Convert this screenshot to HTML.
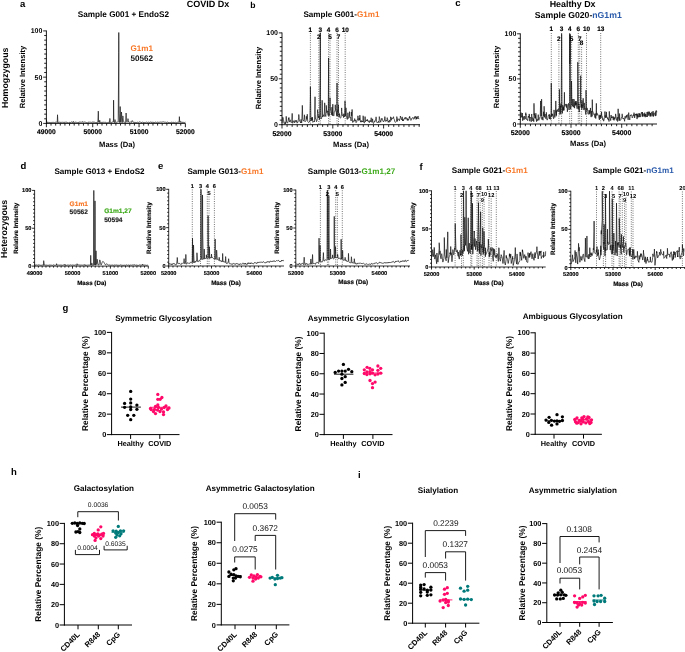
<!DOCTYPE html>
<html><head><meta charset="utf-8"><style>
html,body{margin:0;padding:0;background:#fff;}
svg{display:block;will-change:transform;}
text{font-family:"Liberation Sans", sans-serif;text-rendering:geometricPrecision;}
</style></head><body>
<svg width="685" height="652" viewBox="0 0 685 652">
<rect width="685" height="652" fill="#fff"/>
<text x="20.00" y="6.80" font-size="9.5" font-weight="bold" text-anchor="start" fill="#000">a</text>
<text x="250.20" y="7.70" font-size="8.6" font-weight="bold" text-anchor="start" fill="#000">b</text>
<text x="455.30" y="6.20" font-size="9.5" font-weight="bold" text-anchor="start" fill="#000">c</text>
<text x="20.40" y="169.20" font-size="9.5" font-weight="bold" text-anchor="start" fill="#000">d</text>
<text x="158.00" y="169.00" font-size="9.5" font-weight="bold" text-anchor="start" fill="#000">e</text>
<text x="419.50" y="170.20" font-size="9.5" font-weight="bold" text-anchor="start" fill="#000">f</text>
<text x="62.60" y="310.60" font-size="9.5" font-weight="bold" text-anchor="start" fill="#000">g</text>
<text x="11.00" y="474.80" font-size="9.5" font-weight="bold" text-anchor="start" fill="#000">h</text>
<text x="357.90" y="477.50" font-size="9.5" font-weight="bold" text-anchor="start" fill="#000">i</text>
<text x="186.80" y="7.20" font-size="9.0" font-weight="bold" text-anchor="start" fill="#000">COVID Dx</text>
<text x="572.60" y="6.80" font-size="8.9" font-weight="bold" text-anchor="middle" fill="#000">Healthy Dx</text>
<text x="7.60" y="77.80" font-size="8.8" font-weight="bold" text-anchor="middle" fill="#000" transform="rotate(-90 7.60 77.80)">Homogzygous</text>
<text x="7.20" y="229.00" font-size="8.8" font-weight="bold" text-anchor="middle" fill="#000" transform="rotate(-90 7.20 229.00)">Heterozygous</text>
<path d="M46.40,119.47 L46.78,122.59 L47.24,122.18 L47.50,122.69 L47.88,122.70 L48.27,122.67 L48.55,122.28 L49.00,122.47 L49.39,122.50 L49.80,122.28 L50.02,122.65 L50.43,122.24 L50.76,122.62 L51.29,122.41 L51.63,122.57 L51.86,122.66 L52.44,122.41 L52.80,122.41 L53.11,122.46 L53.47,122.45 L53.74,122.34 L54.08,122.63 L54.56,122.67 L54.83,122.33 L55.23,122.22 L55.61,122.28 L55.93,122.02 L56.40,122.15 L56.76,121.98 L57.22,122.45 L57.48,116.69 L57.52,114.80 L57.52,114.77 L57.56,115.62 L57.92,122.50 L58.26,122.03 L58.67,122.48 L58.99,121.96 L59.32,121.90 L59.85,122.51 L60.22,122.61 L60.56,122.23 L60.90,122.51 L61.18,122.73 L61.54,122.17 L61.92,122.35 L62.24,122.10 L62.77,122.58 L63.06,122.49 L63.53,122.23 L63.79,122.71 L64.29,122.70 L64.64,122.29 L64.82,121.98 L65.24,121.83 L65.76,122.51 L66.04,122.38 L66.52,122.13 L66.76,122.27 L67.06,122.16 L67.56,122.55 L67.96,122.76 L68.22,122.80 L68.55,122.86 L68.97,122.45 L69.48,122.36 L69.81,122.28 L70.04,122.62 L70.44,122.69 L70.77,122.69 L71.13,122.16 L71.67,121.87 L71.90,121.84 L72.36,122.53 L72.70,122.76 L73.02,122.08 L73.22,121.77 L73.27,121.30 L73.33,121.55 L73.51,122.39 L73.75,122.34 L74.23,122.40 L74.48,122.27 L74.92,122.73 L75.25,122.28 L75.63,122.03 L76.16,122.51 L76.49,122.43 L76.75,122.16 L77.25,122.36 L77.47,122.60 L77.88,122.70 L78.35,122.43 L78.68,122.77 L78.93,122.14 L79.50,122.02 L79.69,122.07 L80.07,121.95 L80.56,122.11 L80.83,122.35 L81.19,122.26 L81.52,122.31 L81.89,121.92 L82.37,121.96 L82.48,122.17 L82.54,121.74 L82.59,121.86 L82.67,122.01 L83.12,121.97 L83.44,122.31 L83.82,121.99 L84.31,121.91 L84.57,122.05 L84.96,122.02 L85.40,122.02 L85.62,122.32 L85.98,122.14 L86.52,122.64 L86.87,122.56 L87.11,122.43 L87.47,122.78 L87.96,122.59 L88.38,122.30 L88.59,122.22 L89.12,122.53 L89.48,122.02 L89.79,122.10 L90.12,122.40 L90.42,122.22 L90.77,122.24 L91.35,122.28 L91.56,122.41 L92.03,121.94 L92.31,122.10 L92.80,122.10 L93.12,122.04 L93.43,121.84 L93.77,122.59 L94.26,122.32 L94.49,122.13 L94.89,122.48 L95.34,122.46 L95.77,122.75 L96.09,122.72 L96.39,122.56 L96.90,122.74 L97.11,122.67 L97.44,122.09 L97.87,122.22 L98.25,113.84 L98.28,111.32 L98.29,111.14 L98.33,112.09 L98.56,122.08 L98.96,122.00 L99.37,122.59 L99.57,121.06 L99.68,120.38 L99.79,120.77 L99.79,120.60 L100.06,122.32 L100.48,122.42 L100.97,122.64 L101.36,122.43 L101.66,122.27 L102.04,122.69 L102.39,122.07 L102.66,122.32 L103.00,122.31 L103.37,122.25 L103.94,122.42 L104.26,122.54 L104.69,122.27 L104.85,122.26 L105.36,122.50 L105.70,122.20 L106.12,122.47 L106.40,122.78 L106.93,122.69 L107.09,122.83 L107.57,122.77 L107.98,122.25 L108.39,122.40 L108.72,122.02 L109.08,122.03 L109.47,122.62 L109.83,119.52 L109.87,118.45 L109.87,118.66 L109.91,118.91 L110.12,122.31 L110.56,122.35 L110.98,121.94 L111.34,122.43 L111.61,122.35 L112.07,121.97 L112.45,122.04 L112.76,122.27 L113.14,121.91 L113.46,120.07 L113.54,105.15 L113.58,100.17 L113.62,102.08 L113.87,122.37 L114.25,122.59 L114.50,122.79 L114.89,120.37 L114.97,119.62 L115.00,119.61 L115.05,119.81 L115.45,122.35 L115.79,122.54 L116.13,122.33 L116.43,122.40 L116.87,122.12 L117.21,122.25 L117.55,121.89 L118.01,121.82 L118.21,121.98 L118.73,55.00 L118.73,52.73 L118.77,32.50 L118.80,40.28 L118.94,113.53 L119.44,122.40 L119.78,122.55 L120.10,110.75 L120.10,110.23 L120.16,106.54 L120.21,107.96 L120.57,122.08 L120.90,122.52 L121.29,116.68 L121.34,114.48 L121.45,111.99 L121.57,112.94 L121.73,116.99 L121.96,121.58 L122.27,122.66 L122.71,117.50 L122.71,117.40 L122.84,115.92 L122.98,116.47 L123.16,118.71 L123.43,121.83 L123.79,122.33 L124.32,122.29 L124.64,122.21 L124.96,122.41 L125.43,122.38 L125.68,122.59 L126.02,115.36 L126.09,113.00 L126.12,113.20 L126.16,114.00 L126.39,121.51 L126.81,122.20 L127.27,122.19 L127.66,121.44 L127.80,119.67 L127.94,118.63 L128.03,118.82 L128.08,118.94 L128.29,120.58 L128.70,122.22 L129.01,121.89 L129.34,122.35 L129.79,122.30 L130.24,122.12 L130.61,121.92 L130.95,122.27 L131.38,122.43 L131.60,122.14 L131.83,121.00 L131.94,120.77 L132.11,120.58 L132.38,120.69 L132.39,120.69 L132.71,121.35 L133.07,122.30 L133.48,122.14 L133.90,122.63 L134.24,122.67 L134.57,122.30 L135.06,122.68 L135.46,122.60 L135.71,122.23 L136.00,122.14 L136.36,122.46 L136.92,122.67 L137.10,122.56 L137.62,122.21 L137.96,122.41 L138.28,122.68 L138.75,122.26 L138.95,122.26 L139.35,121.96 L139.79,121.85 L140.07,121.84 L140.62,122.24 L140.85,122.05 L141.20,122.42 L141.55,122.51 L142.05,122.47 L142.38,122.01 L142.80,121.91 L143.17,122.42 L143.58,122.48 L143.98,122.49 L144.29,122.50 L144.55,122.47 L144.98,122.47 L145.29,122.63 L145.62,122.37 L146.10,122.10 L146.52,122.23 L146.77,122.02 L147.16,122.19 L147.55,122.56 L148.00,122.19 L148.33,121.97 L148.72,122.41 L149.12,122.76 L149.41,122.45 L149.87,122.33 L150.27,122.28 L150.46,121.93 L151.02,122.09 L151.34,122.01 L151.58,122.60 L152.02,122.38 L152.43,122.11 L152.86,122.62 L153.12,122.77 L153.53,122.27 L153.97,121.98 L154.32,122.58 L154.73,122.30 L154.99,122.62 L155.40,122.22 L155.67,122.17 L156.16,122.50 L156.55,122.62 L156.88,122.20 L157.27,122.28 L157.53,122.10 L158.05,122.35 L158.44,122.48 L158.81,121.98 L159.08,122.09 L159.51,122.27 L159.78,122.28 L160.28,122.13 L160.64,122.10 L160.89,121.92 L161.21,122.29 L161.66,122.05 L162.05,122.11 L162.47,121.97 L162.78,121.97 L163.05,121.95 L163.59,121.89 L163.80,121.82 L164.33,122.06 L164.56,122.23 L164.97,122.13 L165.44,122.02 L165.67,122.31 L166.04,122.39 L166.49,122.65 L166.91,122.23 L167.30,121.89 L167.64,122.31 L168.07,122.61 L168.34,122.67 L168.81,122.50 L168.99,122.56 L169.39,122.01 L169.83,122.61 L170.15,122.58 L170.62,122.73 L170.97,122.33 L171.31,122.10 L171.75,122.54 L172.06,122.76 L172.38,122.50 L172.76,122.31 L173.24,121.99 L173.62,122.62 L173.84,122.75 L174.35,122.73 L174.75,122.69 L175.02,122.67 L175.40,122.25 L175.69,122.23 L176.13,122.54 L176.50,122.66 L176.89,122.62 L177.13,122.70 L177.71,122.23 L177.98,122.46 L178.33,122.33 L178.79,122.07 L179.10,122.27 L179.33,118.23 L179.37,116.66 L179.41,117.17 L179.46,118.99 L179.87,122.30 L180.10,121.94 L180.58,122.23 L180.67,121.84 L180.76,121.50 L180.84,121.46 L180.92,121.83 L181.41,122.33 L181.78,122.31 L182.00,122.32 L182.42,122.52 L182.71,121.98 L183.15,122.10 L183.61,122.49 L184.00,122.79 L184.27,122.50 L184.61,122.49 L184.95,122.13 L185.39,122.10" fill="none" stroke="#111" stroke-width="0.7" stroke-linejoin="round"/>
<line x1="46.40" y1="30.50" x2="46.40" y2="123.80" stroke="#000" stroke-width="0.9"/>
<line x1="46.00" y1="123.40" x2="185.40" y2="123.40" stroke="#000" stroke-width="0.9"/>
<line x1="43.20" y1="123.40" x2="46.40" y2="123.40" stroke="#000" stroke-width="0.85"/>
<line x1="44.20" y1="118.78" x2="46.40" y2="118.78" stroke="#000" stroke-width="0.85"/>
<line x1="44.20" y1="114.15" x2="46.40" y2="114.15" stroke="#000" stroke-width="0.85"/>
<line x1="44.20" y1="109.53" x2="46.40" y2="109.53" stroke="#000" stroke-width="0.85"/>
<line x1="44.20" y1="104.90" x2="46.40" y2="104.90" stroke="#000" stroke-width="0.85"/>
<line x1="44.20" y1="100.28" x2="46.40" y2="100.28" stroke="#000" stroke-width="0.85"/>
<line x1="44.20" y1="95.65" x2="46.40" y2="95.65" stroke="#000" stroke-width="0.85"/>
<line x1="44.20" y1="91.03" x2="46.40" y2="91.03" stroke="#000" stroke-width="0.85"/>
<line x1="44.20" y1="86.40" x2="46.40" y2="86.40" stroke="#000" stroke-width="0.85"/>
<line x1="44.20" y1="81.78" x2="46.40" y2="81.78" stroke="#000" stroke-width="0.85"/>
<line x1="43.20" y1="77.15" x2="46.40" y2="77.15" stroke="#000" stroke-width="0.85"/>
<line x1="44.20" y1="72.53" x2="46.40" y2="72.53" stroke="#000" stroke-width="0.85"/>
<line x1="44.20" y1="67.90" x2="46.40" y2="67.90" stroke="#000" stroke-width="0.85"/>
<line x1="44.20" y1="63.28" x2="46.40" y2="63.28" stroke="#000" stroke-width="0.85"/>
<line x1="44.20" y1="58.65" x2="46.40" y2="58.65" stroke="#000" stroke-width="0.85"/>
<line x1="44.20" y1="54.03" x2="46.40" y2="54.03" stroke="#000" stroke-width="0.85"/>
<line x1="44.20" y1="49.40" x2="46.40" y2="49.40" stroke="#000" stroke-width="0.85"/>
<line x1="44.20" y1="44.78" x2="46.40" y2="44.78" stroke="#000" stroke-width="0.85"/>
<line x1="44.20" y1="40.15" x2="46.40" y2="40.15" stroke="#000" stroke-width="0.85"/>
<line x1="44.20" y1="35.53" x2="46.40" y2="35.53" stroke="#000" stroke-width="0.85"/>
<line x1="43.20" y1="30.90" x2="46.40" y2="30.90" stroke="#000" stroke-width="0.85"/>
<line x1="46.40" y1="123.40" x2="46.40" y2="127.20" stroke="#000" stroke-width="0.85"/>
<line x1="51.03" y1="123.40" x2="51.03" y2="125.60" stroke="#000" stroke-width="0.85"/>
<line x1="55.67" y1="123.40" x2="55.67" y2="125.60" stroke="#000" stroke-width="0.85"/>
<line x1="60.30" y1="123.40" x2="60.30" y2="125.60" stroke="#000" stroke-width="0.85"/>
<line x1="64.93" y1="123.40" x2="64.93" y2="125.60" stroke="#000" stroke-width="0.85"/>
<line x1="69.56" y1="123.40" x2="69.56" y2="125.60" stroke="#000" stroke-width="0.85"/>
<line x1="74.20" y1="123.40" x2="74.20" y2="125.60" stroke="#000" stroke-width="0.85"/>
<line x1="78.83" y1="123.40" x2="78.83" y2="125.60" stroke="#000" stroke-width="0.85"/>
<line x1="83.46" y1="123.40" x2="83.46" y2="125.60" stroke="#000" stroke-width="0.85"/>
<line x1="88.10" y1="123.40" x2="88.10" y2="125.60" stroke="#000" stroke-width="0.85"/>
<line x1="92.73" y1="123.40" x2="92.73" y2="127.20" stroke="#000" stroke-width="0.85"/>
<line x1="97.36" y1="123.40" x2="97.36" y2="125.60" stroke="#000" stroke-width="0.85"/>
<line x1="102.00" y1="123.40" x2="102.00" y2="125.60" stroke="#000" stroke-width="0.85"/>
<line x1="106.63" y1="123.40" x2="106.63" y2="125.60" stroke="#000" stroke-width="0.85"/>
<line x1="111.26" y1="123.40" x2="111.26" y2="125.60" stroke="#000" stroke-width="0.85"/>
<line x1="115.90" y1="123.40" x2="115.90" y2="125.60" stroke="#000" stroke-width="0.85"/>
<line x1="120.53" y1="123.40" x2="120.53" y2="125.60" stroke="#000" stroke-width="0.85"/>
<line x1="125.16" y1="123.40" x2="125.16" y2="125.60" stroke="#000" stroke-width="0.85"/>
<line x1="129.79" y1="123.40" x2="129.79" y2="125.60" stroke="#000" stroke-width="0.85"/>
<line x1="134.43" y1="123.40" x2="134.43" y2="125.60" stroke="#000" stroke-width="0.85"/>
<line x1="139.06" y1="123.40" x2="139.06" y2="127.20" stroke="#000" stroke-width="0.85"/>
<line x1="143.69" y1="123.40" x2="143.69" y2="125.60" stroke="#000" stroke-width="0.85"/>
<line x1="148.33" y1="123.40" x2="148.33" y2="125.60" stroke="#000" stroke-width="0.85"/>
<line x1="152.96" y1="123.40" x2="152.96" y2="125.60" stroke="#000" stroke-width="0.85"/>
<line x1="157.59" y1="123.40" x2="157.59" y2="125.60" stroke="#000" stroke-width="0.85"/>
<line x1="162.22" y1="123.40" x2="162.22" y2="125.60" stroke="#000" stroke-width="0.85"/>
<line x1="166.86" y1="123.40" x2="166.86" y2="125.60" stroke="#000" stroke-width="0.85"/>
<line x1="171.49" y1="123.40" x2="171.49" y2="125.60" stroke="#000" stroke-width="0.85"/>
<line x1="176.12" y1="123.40" x2="176.12" y2="125.60" stroke="#000" stroke-width="0.85"/>
<line x1="180.76" y1="123.40" x2="180.76" y2="125.60" stroke="#000" stroke-width="0.85"/>
<line x1="185.39" y1="123.40" x2="185.39" y2="127.20" stroke="#000" stroke-width="0.85"/>
<text x="42.40" y="125.92" font-size="7.0" font-weight="bold" text-anchor="end" fill="#000">0</text>
<text x="42.40" y="79.67" font-size="7.0" font-weight="bold" text-anchor="end" fill="#000">50</text>
<text x="42.40" y="33.42" font-size="7.0" font-weight="bold" text-anchor="end" fill="#000">100</text>
<text x="46.40" y="133.90" font-size="6.7" font-weight="bold" text-anchor="middle" fill="#000" stroke="#000" stroke-width="0.15">49000</text>
<text x="92.73" y="133.90" font-size="6.7" font-weight="bold" text-anchor="middle" fill="#000" stroke="#000" stroke-width="0.15">50000</text>
<text x="139.06" y="133.90" font-size="6.7" font-weight="bold" text-anchor="middle" fill="#000" stroke="#000" stroke-width="0.15">51000</text>
<text x="185.39" y="133.90" font-size="6.7" font-weight="bold" text-anchor="middle" fill="#000" stroke="#000" stroke-width="0.15">52000</text>
<text x="117.00" y="146.60" font-size="7.6" font-weight="bold" text-anchor="middle" fill="#000">Mass (Da)</text>
<text x="25.30" y="77.00" font-size="7.6" font-weight="bold" text-anchor="middle" fill="#000" transform="rotate(-90 25.30 77.00)">Relative Intensity</text>
<text x="123.40" y="17.20" font-size="8.2" font-weight="bold" text-anchor="middle"><tspan fill="#000">Sample G001 + EndoS2</tspan></text>
<text x="130.50" y="51.20" font-size="8.1" font-weight="bold" text-anchor="start" fill="#F87828">G1m1</text>
<text x="130.50" y="61.30" font-size="8.1" font-weight="bold" text-anchor="start" fill="#111">50562</text>
<line x1="310.40" y1="33.00" x2="310.40" y2="124.70" stroke="#333" stroke-width="0.75" stroke-dasharray="0.9 1.4"/>
<line x1="318.80" y1="40.50" x2="318.80" y2="124.70" stroke="#333" stroke-width="0.75" stroke-dasharray="0.9 1.4"/>
<line x1="320.30" y1="33.00" x2="320.30" y2="124.70" stroke="#333" stroke-width="0.75" stroke-dasharray="0.9 1.4"/>
<line x1="328.60" y1="33.00" x2="328.60" y2="124.70" stroke="#333" stroke-width="0.75" stroke-dasharray="0.9 1.4"/>
<line x1="330.00" y1="40.50" x2="330.00" y2="124.70" stroke="#333" stroke-width="0.75" stroke-dasharray="0.9 1.4"/>
<line x1="337.00" y1="33.00" x2="337.00" y2="124.70" stroke="#333" stroke-width="0.75" stroke-dasharray="0.9 1.4"/>
<line x1="338.50" y1="40.50" x2="338.50" y2="124.70" stroke="#333" stroke-width="0.75" stroke-dasharray="0.9 1.4"/>
<line x1="345.20" y1="33.00" x2="345.20" y2="124.70" stroke="#333" stroke-width="0.75" stroke-dasharray="0.9 1.4"/>
<path d="M282.00,123.03 L282.52,118.77 L282.57,117.67 L282.63,117.51 L282.74,118.08 L283.06,117.67 L283.52,119.64 L283.95,123.40 L284.63,124.07 L285.14,121.78 L285.56,123.87 L286.07,121.67 L286.13,118.06 L286.19,116.34 L286.25,116.56 L286.49,121.14 L286.93,122.29 L287.55,123.17 L288.12,121.07 L288.47,118.37 L288.75,119.31 L288.87,117.44 L288.98,117.61 L289.20,120.77 L289.54,122.07 L290.05,120.97 L290.05,120.97 L290.14,119.78 L290.23,120.12 L290.50,121.40 L291.30,122.69 L291.72,122.25 L292.10,115.27 L292.16,113.40 L292.22,113.98 L292.27,115.78 L292.29,115.66 L292.37,119.75 L292.44,120.27 L292.70,123.26 L293.03,122.37 L293.63,120.88 L294.19,120.37 L294.58,122.80 L295.35,120.76 L295.68,120.33 L296.12,122.15 L296.41,120.50 L296.52,120.72 L296.63,120.56 L296.83,121.13 L297.13,123.15 L297.88,122.16 L298.11,121.53 L298.17,120.41 L298.23,120.45 L298.24,120.45 L298.70,117.14 L298.76,114.53 L298.78,114.77 L298.82,114.77 L299.22,119.16 L299.78,121.39 L300.19,121.86 L300.65,122.96 L300.93,120.58 L301.05,119.44 L301.17,120.32 L301.42,122.28 L301.73,122.99 L302.26,108.90 L302.32,105.38 L302.38,106.90 L302.41,108.00 L302.74,119.50 L303.48,121.12 L303.96,119.85 L304.34,117.28 L304.43,114.81 L304.43,115.57 L304.52,115.61 L304.94,121.78 L305.39,121.29 L305.95,120.90 L306.27,120.58 L306.32,118.48 L306.38,116.34 L306.44,117.55 L306.88,119.20 L307.14,116.46 L307.25,114.26 L307.35,115.20 L307.50,118.86 L307.82,121.73 L308.54,122.60 L309.04,122.26 L309.40,122.02 L309.90,120.26 L310.35,95.39 L310.40,86.75 L310.43,89.70 L310.44,90.36 L310.92,121.01 L311.35,119.28 L311.43,117.62 L311.52,118.45 L311.61,119.75 L311.94,120.64 L312.34,117.07 L312.46,119.73 L312.54,118.61 L312.61,119.70 L312.86,122.35 L313.56,121.49 L314.15,121.01 L314.51,121.82 L314.97,102.02 L315.02,96.78 L315.02,96.92 L315.06,97.80 L315.07,98.34 L315.14,109.61 L315.22,114.29 L315.54,119.18 L316.11,119.31 L316.46,121.71 L317.09,120.50 L317.50,113.34 L317.56,110.75 L317.58,109.65 L317.62,110.96 L318.04,112.87 L318.11,113.42 L318.12,113.88 L318.20,115.11 L318.48,117.86 L318.98,115.53 L319.55,119.71 L320.23,74.79 L320.26,52.67 L320.30,32.90 L320.35,40.00 L320.39,56.70 L320.51,108.93 L320.56,116.11 L320.63,116.67 L321.15,118.92 L321.57,118.54 L322.01,115.66 L322.06,107.21 L322.07,106.60 L322.12,100.24 L322.13,100.25 L322.19,101.92 L322.19,102.12 L322.51,117.03 L323.24,115.77 L323.74,114.72 L324.13,116.66 L324.61,107.15 L324.67,102.83 L324.73,104.33 L324.73,104.21 L324.80,108.65 L324.86,109.95 L324.92,111.75 L325.23,114.93 L325.81,116.55 L326.22,109.73 L326.29,105.39 L326.34,105.67 L326.36,106.35 L326.68,112.58 L327.36,110.80 L327.86,114.04 L328.26,115.55 L328.54,72.23 L328.58,57.90 L328.63,61.83 L328.85,115.98 L329.24,115.74 L329.71,112.61 L329.95,103.49 L330.01,98.51 L330.03,97.71 L330.07,98.76 L330.11,103.17 L330.18,105.73 L330.19,107.30 L330.88,110.83 L331.17,112.00 L331.65,114.78 L331.88,111.14 L331.94,107.14 L332.01,107.58 L332.39,115.77 L332.74,109.05 L332.80,104.20 L332.86,107.12 L332.88,108.82 L333.30,115.49 L333.92,115.94 L334.19,111.84 L334.76,111.43 L335.20,109.83 L335.27,105.95 L335.28,104.77 L335.33,107.74 L335.82,111.23 L336.26,111.96 L336.73,115.81 L336.97,92.43 L337.02,82.97 L337.06,87.80 L337.32,116.26 L337.90,114.54 L337.99,110.23 L338.00,111.48 L338.09,110.42 L338.31,107.91 L338.39,104.66 L338.46,106.33 L338.54,110.36 L338.97,116.89 L339.40,113.55 L339.84,117.67 L340.56,118.12 L340.94,117.31 L341.51,113.81 L341.54,111.55 L341.64,107.91 L341.73,109.19 L341.80,111.54 L342.36,115.61 L343.06,114.81 L343.56,117.55 L343.71,115.60 L343.77,113.76 L343.84,114.12 L344.09,115.52 L344.51,116.81 L344.95,106.42 L344.97,102.58 L344.99,100.93 L345.04,103.14 L345.52,116.08 L345.91,111.39 L345.98,107.83 L346.05,109.77 L346.11,112.95 L346.46,115.67 L347.03,119.33 L347.46,119.24 L347.82,115.22 L347.90,112.76 L347.99,114.68 L348.12,118.18 L348.40,118.43 L349.11,117.12 L349.42,113.91 L349.51,111.68 L349.60,113.53 L349.70,116.35 L349.93,117.70 L350.61,117.39 L351.13,120.99 L351.28,114.60 L351.34,111.99 L351.41,113.19 L351.70,115.82 L352.06,112.42 L352.10,109.48 L352.13,110.80 L352.15,110.93 L352.54,122.25 L353.09,122.34 L353.77,120.54 L354.26,121.27 L354.53,120.51 L354.56,120.12 L354.67,118.62 L354.77,119.48 L355.03,120.79 L355.54,119.92 L356.02,122.69 L356.66,122.05 L357.07,119.69 L357.80,119.40 L357.84,117.28 L357.91,115.81 L357.98,115.99 L358.25,120.51 L358.59,120.24 L359.23,117.95 L359.67,120.19 L359.75,117.32 L359.83,115.16 L359.91,115.85 L360.23,120.47 L360.65,122.15 L361.15,120.39 L361.66,122.11 L362.23,121.00 L362.84,121.97 L363.01,118.12 L363.13,115.77 L363.26,116.04 L363.30,116.63 L363.65,122.33 L364.36,122.97 L364.92,120.64 L364.97,118.02 L365.06,116.60 L365.15,116.87 L365.40,121.70 L365.91,121.05 L366.18,120.73 L366.82,120.07 L367.01,120.96 L367.09,120.52 L367.17,120.94 L367.21,119.28 L367.93,121.17 L368.26,121.66 L368.93,120.68 L369.30,122.67 L369.94,120.67 L370.34,120.59 L370.76,121.86 L371.10,119.24 L371.19,117.74 L371.28,118.77 L371.37,120.17 L371.86,122.27 L372.41,120.87 L372.52,119.51 L372.55,119.60 L372.62,118.83 L372.87,122.17 L373.44,123.49 L373.96,122.60 L374.59,120.84 L374.84,121.68 L375.50,120.12 L375.97,118.15 L375.98,117.78 L376.08,116.85 L376.19,117.77 L376.56,121.53 L377.14,122.67 L377.45,122.98 L378.07,122.04 L378.53,121.22 L379.05,122.77 L379.24,118.69 L379.32,116.62 L379.40,117.10 L379.40,117.38 L380.14,119.79 L380.70,122.22 L381.02,120.30 L381.51,119.83 L381.78,119.85 L381.89,118.09 L382.00,119.07 L382.23,120.18 L382.46,119.81 L382.96,120.78 L383.47,121.98 L384.20,120.81 L384.70,118.97 L384.73,118.03 L384.83,116.63 L384.93,116.77 L385.11,120.42 L385.67,121.45 L385.99,119.86 L386.69,120.94 L387.14,120.88 L387.17,119.05 L387.25,117.66 L387.32,118.70 L387.67,119.22 L388.14,122.25 L388.65,121.15 L389.10,122.38 L389.56,120.17 L390.18,121.71 L390.49,118.50 L390.59,116.80 L390.63,116.87 L390.69,117.04 L391.28,120.32 L391.82,117.63 L392.30,118.73 L392.73,118.73 L393.17,118.20 L393.52,116.73 L393.62,117.42 L393.73,118.15 L393.73,118.38 L394.26,119.24 L394.82,121.76 L395.43,122.29 L395.67,121.97 L396.29,121.65 L396.72,118.82 L396.81,116.60 L396.83,117.07 L396.94,117.45 L397.38,121.37 L397.94,118.76 L398.42,119.23 L398.88,119.02 L399.43,120.73 L399.91,118.65 L400.30,117.63 L400.39,116.13 L400.47,116.81 L400.48,116.59 L400.93,117.88 L401.44,119.77 L401.81,118.80 L402.05,118.17 L402.17,116.84 L402.28,117.39 L402.52,120.94 L402.87,119.25 L403.45,120.93 L404.02,118.55 L404.57,118.37 L405.09,119.23 L405.09,119.07 L405.19,117.06 L405.29,117.38 L405.30,117.40 L405.89,118.69 L406.40,117.71 L406.93,118.23 L407.05,119.48 L407.16,118.52 L407.26,118.99 L407.37,120.47 L408.00,118.97 L408.36,120.36 L408.94,118.97 L409.28,117.15 L409.38,116.96 L409.48,117.73 L409.64,116.31 L410.09,117.95 L410.51,119.25 L410.91,120.44 L411.67,119.25 L411.68,119.05 L411.76,118.18 L411.85,118.38 L412.11,118.15 L412.47,117.94 L413.01,117.34 L413.62,119.24 L414.14,118.80 L414.52,118.65 L414.70,116.78 L414.80,117.38 L414.90,117.68 L415.23,116.15 L415.55,116.77 L416.04,119.45 L416.60,118.36 L416.66,116.68 L416.73,118.96 L416.73,117.97 L417.02,118.67 L417.69,116.59 L418.05,116.26 L418.23,116.02 L418.30,118.59 L418.38,118.29 L418.68,118.30 L419.09,119.14" fill="none" stroke="#111" stroke-width="0.7" stroke-linejoin="round"/>
<line x1="282.00" y1="32.50" x2="282.00" y2="125.10" stroke="#000" stroke-width="0.9"/>
<line x1="281.60" y1="124.70" x2="420.00" y2="124.70" stroke="#000" stroke-width="0.9"/>
<line x1="278.80" y1="124.70" x2="282.00" y2="124.70" stroke="#000" stroke-width="0.85"/>
<line x1="279.80" y1="120.11" x2="282.00" y2="120.11" stroke="#000" stroke-width="0.85"/>
<line x1="279.80" y1="115.52" x2="282.00" y2="115.52" stroke="#000" stroke-width="0.85"/>
<line x1="279.80" y1="110.93" x2="282.00" y2="110.93" stroke="#000" stroke-width="0.85"/>
<line x1="279.80" y1="106.34" x2="282.00" y2="106.34" stroke="#000" stroke-width="0.85"/>
<line x1="279.80" y1="101.75" x2="282.00" y2="101.75" stroke="#000" stroke-width="0.85"/>
<line x1="279.80" y1="97.16" x2="282.00" y2="97.16" stroke="#000" stroke-width="0.85"/>
<line x1="279.80" y1="92.57" x2="282.00" y2="92.57" stroke="#000" stroke-width="0.85"/>
<line x1="279.80" y1="87.98" x2="282.00" y2="87.98" stroke="#000" stroke-width="0.85"/>
<line x1="279.80" y1="83.39" x2="282.00" y2="83.39" stroke="#000" stroke-width="0.85"/>
<line x1="278.80" y1="78.80" x2="282.00" y2="78.80" stroke="#000" stroke-width="0.85"/>
<line x1="279.80" y1="74.21" x2="282.00" y2="74.21" stroke="#000" stroke-width="0.85"/>
<line x1="279.80" y1="69.62" x2="282.00" y2="69.62" stroke="#000" stroke-width="0.85"/>
<line x1="279.80" y1="65.03" x2="282.00" y2="65.03" stroke="#000" stroke-width="0.85"/>
<line x1="279.80" y1="60.44" x2="282.00" y2="60.44" stroke="#000" stroke-width="0.85"/>
<line x1="279.80" y1="55.85" x2="282.00" y2="55.85" stroke="#000" stroke-width="0.85"/>
<line x1="279.80" y1="51.26" x2="282.00" y2="51.26" stroke="#000" stroke-width="0.85"/>
<line x1="279.80" y1="46.67" x2="282.00" y2="46.67" stroke="#000" stroke-width="0.85"/>
<line x1="279.80" y1="42.08" x2="282.00" y2="42.08" stroke="#000" stroke-width="0.85"/>
<line x1="279.80" y1="37.49" x2="282.00" y2="37.49" stroke="#000" stroke-width="0.85"/>
<line x1="278.80" y1="32.90" x2="282.00" y2="32.90" stroke="#000" stroke-width="0.85"/>
<line x1="282.00" y1="124.70" x2="282.00" y2="128.50" stroke="#000" stroke-width="0.85"/>
<line x1="287.08" y1="124.70" x2="287.08" y2="126.90" stroke="#000" stroke-width="0.85"/>
<line x1="292.16" y1="124.70" x2="292.16" y2="126.90" stroke="#000" stroke-width="0.85"/>
<line x1="297.24" y1="124.70" x2="297.24" y2="126.90" stroke="#000" stroke-width="0.85"/>
<line x1="302.32" y1="124.70" x2="302.32" y2="126.90" stroke="#000" stroke-width="0.85"/>
<line x1="307.40" y1="124.70" x2="307.40" y2="126.90" stroke="#000" stroke-width="0.85"/>
<line x1="312.48" y1="124.70" x2="312.48" y2="126.90" stroke="#000" stroke-width="0.85"/>
<line x1="317.56" y1="124.70" x2="317.56" y2="126.90" stroke="#000" stroke-width="0.85"/>
<line x1="322.64" y1="124.70" x2="322.64" y2="126.90" stroke="#000" stroke-width="0.85"/>
<line x1="327.72" y1="124.70" x2="327.72" y2="126.90" stroke="#000" stroke-width="0.85"/>
<line x1="332.80" y1="124.70" x2="332.80" y2="128.50" stroke="#000" stroke-width="0.85"/>
<line x1="337.88" y1="124.70" x2="337.88" y2="126.90" stroke="#000" stroke-width="0.85"/>
<line x1="342.96" y1="124.70" x2="342.96" y2="126.90" stroke="#000" stroke-width="0.85"/>
<line x1="348.04" y1="124.70" x2="348.04" y2="126.90" stroke="#000" stroke-width="0.85"/>
<line x1="353.12" y1="124.70" x2="353.12" y2="126.90" stroke="#000" stroke-width="0.85"/>
<line x1="358.20" y1="124.70" x2="358.20" y2="126.90" stroke="#000" stroke-width="0.85"/>
<line x1="363.28" y1="124.70" x2="363.28" y2="126.90" stroke="#000" stroke-width="0.85"/>
<line x1="368.36" y1="124.70" x2="368.36" y2="126.90" stroke="#000" stroke-width="0.85"/>
<line x1="373.44" y1="124.70" x2="373.44" y2="126.90" stroke="#000" stroke-width="0.85"/>
<line x1="378.52" y1="124.70" x2="378.52" y2="126.90" stroke="#000" stroke-width="0.85"/>
<line x1="383.60" y1="124.70" x2="383.60" y2="128.50" stroke="#000" stroke-width="0.85"/>
<line x1="388.68" y1="124.70" x2="388.68" y2="126.90" stroke="#000" stroke-width="0.85"/>
<line x1="393.76" y1="124.70" x2="393.76" y2="126.90" stroke="#000" stroke-width="0.85"/>
<line x1="398.84" y1="124.70" x2="398.84" y2="126.90" stroke="#000" stroke-width="0.85"/>
<line x1="403.92" y1="124.70" x2="403.92" y2="126.90" stroke="#000" stroke-width="0.85"/>
<line x1="409.00" y1="124.70" x2="409.00" y2="126.90" stroke="#000" stroke-width="0.85"/>
<line x1="414.08" y1="124.70" x2="414.08" y2="126.90" stroke="#000" stroke-width="0.85"/>
<line x1="419.16" y1="124.70" x2="419.16" y2="126.90" stroke="#000" stroke-width="0.85"/>
<text x="278.00" y="127.22" font-size="7.0" font-weight="bold" text-anchor="end" fill="#000">0</text>
<text x="278.00" y="81.32" font-size="7.0" font-weight="bold" text-anchor="end" fill="#000">50</text>
<text x="278.00" y="35.42" font-size="7.0" font-weight="bold" text-anchor="end" fill="#000">100</text>
<text x="282.00" y="135.80" font-size="6.8" font-weight="bold" text-anchor="middle" fill="#000" stroke="#000" stroke-width="0.15">52000</text>
<text x="332.80" y="135.80" font-size="6.8" font-weight="bold" text-anchor="middle" fill="#000" stroke="#000" stroke-width="0.15">53000</text>
<text x="383.60" y="135.80" font-size="6.8" font-weight="bold" text-anchor="middle" fill="#000" stroke="#000" stroke-width="0.15">54000</text>
<text x="351.00" y="146.70" font-size="7.6" font-weight="bold" text-anchor="middle" fill="#000">Mass (Da)</text>
<text x="261.00" y="78.00" font-size="7.6" font-weight="bold" text-anchor="middle" fill="#000" transform="rotate(-90 261.00 78.00)">Relative Intensity</text>
<text x="341.40" y="17.20" font-size="8.1" font-weight="bold" text-anchor="middle"><tspan fill="#000">Sample G001-</tspan><tspan fill="#F87828">G1m1</tspan></text>
<text x="310.40" y="31.60" font-size="6.4" font-weight="bold" text-anchor="middle" fill="#000" stroke="#000" stroke-width="0.15">1</text>
<text x="320.30" y="31.60" font-size="6.4" font-weight="bold" text-anchor="middle" fill="#000" stroke="#000" stroke-width="0.15">3</text>
<text x="328.60" y="31.60" font-size="6.4" font-weight="bold" text-anchor="middle" fill="#000" stroke="#000" stroke-width="0.15">4</text>
<text x="337.00" y="31.60" font-size="6.4" font-weight="bold" text-anchor="middle" fill="#000" stroke="#000" stroke-width="0.15">6</text>
<text x="345.20" y="31.60" font-size="6.4" font-weight="bold" text-anchor="middle" fill="#000" stroke="#000" stroke-width="0.15">10</text>
<text x="318.80" y="39.30" font-size="6.4" font-weight="bold" text-anchor="middle" fill="#000" stroke="#000" stroke-width="0.15">2</text>
<text x="330.00" y="39.30" font-size="6.4" font-weight="bold" text-anchor="middle" fill="#000" stroke="#000" stroke-width="0.15">5</text>
<text x="338.50" y="39.30" font-size="6.4" font-weight="bold" text-anchor="middle" fill="#000" stroke="#000" stroke-width="0.15">7</text>
<line x1="551.30" y1="33.00" x2="551.30" y2="124.00" stroke="#333" stroke-width="0.75" stroke-dasharray="0.9 1.4"/>
<line x1="558.90" y1="42.00" x2="558.90" y2="124.00" stroke="#333" stroke-width="0.75" stroke-dasharray="0.9 1.4"/>
<line x1="561.60" y1="33.00" x2="561.60" y2="124.00" stroke="#333" stroke-width="0.75" stroke-dasharray="0.9 1.4"/>
<line x1="569.70" y1="33.00" x2="569.70" y2="124.00" stroke="#333" stroke-width="0.75" stroke-dasharray="0.9 1.4"/>
<line x1="571.60" y1="42.00" x2="571.60" y2="124.00" stroke="#333" stroke-width="0.75" stroke-dasharray="0.9 1.4"/>
<line x1="578.30" y1="33.00" x2="578.30" y2="124.00" stroke="#333" stroke-width="0.75" stroke-dasharray="0.9 1.4"/>
<line x1="579.70" y1="42.00" x2="579.70" y2="124.00" stroke="#333" stroke-width="0.75" stroke-dasharray="0.9 1.4"/>
<line x1="581.60" y1="47.00" x2="581.60" y2="124.00" stroke="#333" stroke-width="0.75" stroke-dasharray="0.9 1.4"/>
<line x1="586.50" y1="33.00" x2="586.50" y2="124.00" stroke="#333" stroke-width="0.75" stroke-dasharray="0.9 1.4"/>
<line x1="600.70" y1="33.00" x2="600.70" y2="124.00" stroke="#333" stroke-width="0.75" stroke-dasharray="0.9 1.4"/>
<path d="M520.30,117.38 L520.61,117.51 L521.01,115.12 L521.09,112.63 L521.10,113.90 L521.19,113.90 L521.56,117.26 L521.83,116.63 L522.23,117.21 L522.26,116.09 L522.35,113.06 L522.44,114.76 L522.67,120.72 L523.20,116.43 L523.46,117.38 L524.01,119.85 L524.40,116.88 L524.67,116.10 L525.18,119.12 L525.56,116.69 L525.71,115.16 L525.79,112.68 L525.87,114.85 L525.96,114.15 L526.50,117.30 L526.69,119.71 L527.08,119.31 L527.71,120.69 L527.98,118.26 L528.34,116.01 L528.78,117.22 L529.19,117.90 L529.21,113.93 L529.30,115.82 L529.39,115.55 L529.74,121.15 L529.96,118.77 L530.37,117.24 L530.87,118.40 L531.26,121.77 L531.55,116.39 L531.66,113.97 L531.77,114.48 L531.77,115.45 L532.14,118.28 L532.43,117.70 L532.80,121.02 L533.36,118.60 L533.80,121.70 L533.94,107.23 L533.98,104.16 L533.99,103.36 L534.03,104.72 L534.23,115.07 L534.34,113.47 L534.45,113.83 L534.55,116.61 L534.99,118.28 L535.34,115.25 L535.64,118.38 L535.71,115.39 L535.82,113.23 L535.93,113.58 L536.19,119.35 L536.58,121.66 L536.86,118.76 L537.37,120.66 L537.67,119.77 L538.03,120.15 L538.15,117.26 L538.24,114.65 L538.34,117.29 L538.51,118.39 L538.92,120.29 L539.34,117.69 L539.80,118.28 L540.26,116.53 L540.53,105.35 L540.58,100.96 L540.63,102.33 L540.69,110.10 L541.10,116.00 L541.15,116.15 L541.23,114.91 L541.30,115.28 L541.51,112.35 L541.55,104.80 L541.59,99.20 L541.64,100.68 L541.87,119.49 L542.16,116.96 L542.53,118.94 L543.04,120.23 L543.36,115.00 L543.43,111.76 L543.48,111.85 L543.59,112.12 L543.87,116.13 L544.08,110.31 L544.13,106.29 L544.13,107.28 L544.17,107.43 L544.56,117.25 L545.14,114.07 L545.47,118.11 L545.90,118.76 L546.16,117.70 L546.22,115.03 L546.33,112.33 L546.44,113.28 L546.64,117.81 L547.17,120.15 L547.51,118.94 L548.00,118.23 L548.21,115.84 L548.68,115.10 L549.11,115.70 L549.17,114.41 L549.21,114.05 L549.30,114.28 L549.49,119.07 L549.98,115.33 L550.33,119.00 L550.63,119.45 L551.03,113.38 L551.23,92.94 L551.28,83.14 L551.32,87.76 L551.65,116.71 L551.80,115.95 L551.84,114.26 L551.91,115.54 L552.03,113.65 L552.27,115.33 L552.71,114.51 L553.21,117.26 L553.65,118.77 L553.94,112.72 L553.96,111.88 L554.02,109.92 L554.10,111.00 L554.37,114.03 L554.85,117.48 L555.13,113.49 L555.56,111.07 L555.74,104.50 L555.79,100.93 L555.84,103.26 L556.02,112.52 L556.24,116.26 L556.31,110.79 L556.38,114.34 L556.43,114.91 L556.69,110.44 L557.12,109.69 L557.53,111.43 L558.08,109.10 L558.47,108.58 L558.95,111.81 L559.30,109.39 L559.34,96.07 L559.39,89.39 L559.44,92.55 L559.58,108.53 L559.70,108.50 L559.80,109.85 L559.91,114.61 L560.11,113.37 L560.57,105.71 L560.82,113.71 L560.89,109.78 L560.99,103.55 L561.09,106.99 L561.15,107.19 L561.57,52.21 L561.62,33.80 L561.64,34.89 L561.67,38.96 L562.02,109.19 L562.40,113.39 L562.78,105.14 L563.11,110.32 L563.18,107.45 L563.20,108.33 L563.25,110.33 L563.79,106.56 L564.00,110.39 L564.36,98.53 L564.41,92.29 L564.45,94.49 L564.54,104.00 L564.84,106.47 L565.25,104.56 L565.81,104.95 L566.08,103.91 L566.29,106.23 L566.40,105.80 L566.46,107.23 L566.50,107.61 L566.93,104.28 L567.40,111.80 L567.76,107.91 L568.25,104.79 L568.54,103.36 L568.98,109.83 L569.43,107.26 L569.54,106.90 L569.64,53.28 L569.67,34.91 L569.68,33.80 L569.73,39.37 L569.77,58.17 L569.79,63.94 L570.24,54.49 L570.24,54.93 L570.29,34.29 L570.34,41.82 L570.59,109.25 L570.91,106.08 L571.31,104.31 L571.46,90.77 L571.51,80.92 L571.55,83.36 L571.88,105.26 L572.28,105.26 L572.59,106.22 L572.68,99.61 L572.73,99.00 L572.77,100.79 L573.07,104.97 L573.45,107.20 L573.76,99.00 L574.33,99.96 L574.56,108.15 L575.04,102.33 L575.37,105.38 L575.84,101.15 L575.93,103.67 L576.02,101.16 L576.10,105.12 L576.23,102.88 L576.66,107.52 L577.14,108.85 L577.50,108.16 L577.75,76.71 L577.79,62.19 L577.83,64.06 L577.84,66.00 L578.37,104.76 L578.47,103.69 L578.57,108.99 L578.68,108.86 L578.76,105.95 L579.19,112.08 L579.40,108.81 L579.95,103.80 L580.43,102.89 L580.64,86.37 L580.64,84.51 L580.68,75.73 L580.68,75.80 L580.71,77.42 L580.73,79.40 L580.79,92.99 L581.07,107.42 L581.62,104.34 L581.83,109.61 L581.91,104.96 L581.92,106.17 L581.99,100.52 L582.33,107.80 L582.84,107.25 L583.12,102.86 L583.14,100.81 L583.17,98.27 L583.21,99.92 L583.50,106.35 L583.91,110.05 L584.21,107.29 L584.28,103.20 L584.35,102.91 L584.36,105.58 L584.84,109.26 L585.16,108.40 L585.67,114.48 L585.90,113.80 L585.96,98.83 L586.01,90.18 L586.05,93.19 L586.35,108.79 L586.85,108.81 L586.99,110.61 L587.07,107.90 L587.15,108.85 L587.22,112.19 L587.63,113.25 L588.14,113.89 L588.39,114.30 L588.77,113.84 L589.07,110.12 L589.14,112.69 L589.15,112.98 L589.23,114.25 L589.65,110.59 L590.01,113.39 L590.46,107.94 L590.75,115.46 L591.16,117.11 L591.52,114.86 L591.62,112.78 L591.66,111.02 L591.72,113.51 L592.15,116.37 L592.25,105.27 L592.29,99.66 L592.34,101.76 L592.45,111.55 L593.00,111.49 L593.33,114.28 L593.69,114.31 L594.19,114.08 L594.46,114.16 L594.96,117.67 L595.13,115.35 L595.23,113.48 L595.33,113.73 L595.42,115.80 L595.75,118.55 L596.10,114.25 L596.30,109.20 L596.35,103.39 L596.40,105.75 L596.45,110.51 L596.76,115.48 L596.87,113.39 L596.98,112.99 L596.98,113.59 L597.29,114.40 L597.74,114.25 L598.19,115.34 L598.69,116.61 L599.03,118.46 L599.40,119.88 L599.88,114.90 L600.09,118.81 L600.16,115.81 L600.18,116.87 L600.27,114.87 L600.58,115.77 L601.06,117.98 L601.43,116.34 L601.48,115.09 L601.55,111.77 L601.62,113.75 L601.76,115.42 L602.21,116.07 L602.72,119.59 L602.98,118.60 L603.50,121.00 L603.74,121.22 L604.37,117.83 L604.71,114.40 L604.75,113.71 L604.87,111.91 L604.98,111.48 L605.03,112.86 L605.59,117.81 L605.95,115.39 L606.18,117.45 L606.24,115.14 L606.34,112.50 L606.44,111.92 L606.63,116.07 L607.10,117.96 L607.63,118.72 L607.82,117.52 L608.21,119.92 L608.68,118.81 L609.02,121.51 L609.23,115.30 L609.32,111.40 L609.41,114.06 L609.51,116.05 L609.95,118.16 L610.33,118.12 L610.66,120.60 L611.03,118.31 L611.04,116.95 L611.10,114.99 L611.17,117.02 L611.63,117.99 L611.95,116.70 L612.37,117.64 L612.77,116.54 L613.23,119.82 L613.69,116.64 L614.07,120.40 L614.30,119.46 L614.40,117.73 L614.45,118.38 L614.50,118.61 L614.77,117.65 L615.13,118.40 L615.52,117.14 L615.52,116.48 L615.61,113.88 L615.70,114.83 L616.11,117.38 L616.32,120.05 L616.85,120.45 L617.34,117.21 L617.60,121.50 L618.02,120.35 L618.11,112.38 L618.15,108.82 L618.20,111.99 L618.44,118.20 L618.97,117.77 L619.31,120.76 L619.42,116.36 L619.49,114.49 L619.56,113.58 L619.75,119.99 L619.97,120.21 L620.54,120.23 L620.88,119.79 L621.27,117.62 L621.78,117.82 L622.03,116.08 L622.14,114.51 L622.16,113.83 L622.26,114.71 L622.61,117.46 L622.97,118.89 L623.42,118.05 L623.71,118.82 L624.15,118.57 L624.61,121.31 L624.93,116.68 L625.26,116.11 L625.78,118.42 L626.22,117.41 L626.25,116.59 L626.33,115.69 L626.43,115.39 L626.66,117.16 L626.88,115.02 L627.35,114.63 L627.72,116.04 L628.15,119.85 L628.57,113.11 L628.69,112.61 L628.71,112.72 L628.80,112.99 L628.98,117.04 L629.36,118.18 L629.76,119.94 L630.20,115.24 L630.66,116.00 L630.99,114.66 L631.36,114.73 L631.67,115.35 L631.75,115.25 L631.77,115.25 L631.83,115.38 L632.19,118.01 L632.75,117.35 L632.98,115.99 L633.52,114.52 L633.77,114.74 L633.87,115.92 L633.99,112.67 L634.11,113.43 L634.34,114.16 L634.62,117.94 L635.15,114.76 L635.47,113.95 L635.79,115.21 L636.20,113.95 L636.78,115.45 L636.87,113.78 L636.98,118.37 L637.09,119.09 L637.12,113.75 L637.52,117.40 L637.89,115.00 L638.38,117.29 L638.73,115.54 L638.98,113.52 L639.03,114.42 L639.10,113.40 L639.21,114.88 L639.57,117.12 L639.69,115.38 L639.79,113.72 L639.89,114.80 L639.91,114.28 L640.44,116.86 L640.78,116.82 L641.24,112.82 L641.48,113.30 L642.03,112.03 L642.26,113.46 L642.34,112.17 L642.41,116.38 L642.43,113.54 L642.88,116.70 L643.29,113.53 L643.61,114.28 L644.03,116.35 L644.48,116.08 L644.76,112.65 L644.83,116.21 L644.94,114.53 L645.06,114.98 L645.24,117.20 L645.70,114.04 L646.06,115.66 L646.45,116.18 L646.93,116.98 L647.12,112.00 L647.23,116.83 L647.33,115.53 L647.37,114.58 L647.60,114.24 L647.96,111.75 L648.50,115.50 L648.79,114.02 L649.09,111.54 L649.19,113.85 L649.28,112.31 L649.40,113.50 L649.68,114.94 L650.10,116.49 L650.32,113.69 L650.38,115.66 L650.44,114.24 L650.57,112.93 L650.99,116.43 L651.22,115.91 L651.70,112.04 L652.04,112.18 L652.52,113.51 L652.84,115.77 L652.97,116.32 L653.04,111.05 L653.11,114.76 L653.43,116.45 L653.71,113.99 L654.12,112.74 L654.65,114.65 L655.04,115.02 L655.32,116.09 L655.77,111.44 L655.88,115.71 L655.96,115.65 L656.03,114.92 L656.22,110.46 L656.51,111.06 L656.90,112.15" fill="none" stroke="#111" stroke-width="0.7" stroke-linejoin="round"/>
<line x1="520.30" y1="33.40" x2="520.30" y2="124.40" stroke="#000" stroke-width="0.9"/>
<line x1="519.90" y1="124.00" x2="657.00" y2="124.00" stroke="#000" stroke-width="0.9"/>
<line x1="517.10" y1="124.00" x2="520.30" y2="124.00" stroke="#000" stroke-width="0.85"/>
<line x1="518.10" y1="119.49" x2="520.30" y2="119.49" stroke="#000" stroke-width="0.85"/>
<line x1="518.10" y1="114.98" x2="520.30" y2="114.98" stroke="#000" stroke-width="0.85"/>
<line x1="518.10" y1="110.47" x2="520.30" y2="110.47" stroke="#000" stroke-width="0.85"/>
<line x1="518.10" y1="105.96" x2="520.30" y2="105.96" stroke="#000" stroke-width="0.85"/>
<line x1="518.10" y1="101.45" x2="520.30" y2="101.45" stroke="#000" stroke-width="0.85"/>
<line x1="518.10" y1="96.94" x2="520.30" y2="96.94" stroke="#000" stroke-width="0.85"/>
<line x1="518.10" y1="92.43" x2="520.30" y2="92.43" stroke="#000" stroke-width="0.85"/>
<line x1="518.10" y1="87.92" x2="520.30" y2="87.92" stroke="#000" stroke-width="0.85"/>
<line x1="518.10" y1="83.41" x2="520.30" y2="83.41" stroke="#000" stroke-width="0.85"/>
<line x1="517.10" y1="78.90" x2="520.30" y2="78.90" stroke="#000" stroke-width="0.85"/>
<line x1="518.10" y1="74.39" x2="520.30" y2="74.39" stroke="#000" stroke-width="0.85"/>
<line x1="518.10" y1="69.88" x2="520.30" y2="69.88" stroke="#000" stroke-width="0.85"/>
<line x1="518.10" y1="65.37" x2="520.30" y2="65.37" stroke="#000" stroke-width="0.85"/>
<line x1="518.10" y1="60.86" x2="520.30" y2="60.86" stroke="#000" stroke-width="0.85"/>
<line x1="518.10" y1="56.35" x2="520.30" y2="56.35" stroke="#000" stroke-width="0.85"/>
<line x1="518.10" y1="51.84" x2="520.30" y2="51.84" stroke="#000" stroke-width="0.85"/>
<line x1="518.10" y1="47.33" x2="520.30" y2="47.33" stroke="#000" stroke-width="0.85"/>
<line x1="518.10" y1="42.82" x2="520.30" y2="42.82" stroke="#000" stroke-width="0.85"/>
<line x1="518.10" y1="38.31" x2="520.30" y2="38.31" stroke="#000" stroke-width="0.85"/>
<line x1="517.10" y1="33.80" x2="520.30" y2="33.80" stroke="#000" stroke-width="0.85"/>
<line x1="520.30" y1="124.00" x2="520.30" y2="127.80" stroke="#000" stroke-width="0.85"/>
<line x1="525.37" y1="124.00" x2="525.37" y2="126.20" stroke="#000" stroke-width="0.85"/>
<line x1="530.44" y1="124.00" x2="530.44" y2="126.20" stroke="#000" stroke-width="0.85"/>
<line x1="535.51" y1="124.00" x2="535.51" y2="126.20" stroke="#000" stroke-width="0.85"/>
<line x1="540.58" y1="124.00" x2="540.58" y2="126.20" stroke="#000" stroke-width="0.85"/>
<line x1="545.65" y1="124.00" x2="545.65" y2="126.20" stroke="#000" stroke-width="0.85"/>
<line x1="550.72" y1="124.00" x2="550.72" y2="126.20" stroke="#000" stroke-width="0.85"/>
<line x1="555.79" y1="124.00" x2="555.79" y2="126.20" stroke="#000" stroke-width="0.85"/>
<line x1="560.86" y1="124.00" x2="560.86" y2="126.20" stroke="#000" stroke-width="0.85"/>
<line x1="565.93" y1="124.00" x2="565.93" y2="126.20" stroke="#000" stroke-width="0.85"/>
<line x1="571.00" y1="124.00" x2="571.00" y2="127.80" stroke="#000" stroke-width="0.85"/>
<line x1="576.07" y1="124.00" x2="576.07" y2="126.20" stroke="#000" stroke-width="0.85"/>
<line x1="581.14" y1="124.00" x2="581.14" y2="126.20" stroke="#000" stroke-width="0.85"/>
<line x1="586.21" y1="124.00" x2="586.21" y2="126.20" stroke="#000" stroke-width="0.85"/>
<line x1="591.28" y1="124.00" x2="591.28" y2="126.20" stroke="#000" stroke-width="0.85"/>
<line x1="596.35" y1="124.00" x2="596.35" y2="126.20" stroke="#000" stroke-width="0.85"/>
<line x1="601.42" y1="124.00" x2="601.42" y2="126.20" stroke="#000" stroke-width="0.85"/>
<line x1="606.49" y1="124.00" x2="606.49" y2="126.20" stroke="#000" stroke-width="0.85"/>
<line x1="611.56" y1="124.00" x2="611.56" y2="126.20" stroke="#000" stroke-width="0.85"/>
<line x1="616.63" y1="124.00" x2="616.63" y2="126.20" stroke="#000" stroke-width="0.85"/>
<line x1="621.70" y1="124.00" x2="621.70" y2="127.80" stroke="#000" stroke-width="0.85"/>
<line x1="626.77" y1="124.00" x2="626.77" y2="126.20" stroke="#000" stroke-width="0.85"/>
<line x1="631.84" y1="124.00" x2="631.84" y2="126.20" stroke="#000" stroke-width="0.85"/>
<line x1="636.91" y1="124.00" x2="636.91" y2="126.20" stroke="#000" stroke-width="0.85"/>
<line x1="641.98" y1="124.00" x2="641.98" y2="126.20" stroke="#000" stroke-width="0.85"/>
<line x1="647.05" y1="124.00" x2="647.05" y2="126.20" stroke="#000" stroke-width="0.85"/>
<line x1="652.12" y1="124.00" x2="652.12" y2="126.20" stroke="#000" stroke-width="0.85"/>
<text x="516.30" y="126.52" font-size="7.0" font-weight="bold" text-anchor="end" fill="#000">0</text>
<text x="516.30" y="81.42" font-size="7.0" font-weight="bold" text-anchor="end" fill="#000">50</text>
<text x="516.30" y="36.32" font-size="7.0" font-weight="bold" text-anchor="end" fill="#000">100</text>
<text x="520.30" y="135.30" font-size="6.9" font-weight="bold" text-anchor="middle" fill="#000" stroke="#000" stroke-width="0.15">52000</text>
<text x="571.00" y="135.30" font-size="6.9" font-weight="bold" text-anchor="middle" fill="#000" stroke="#000" stroke-width="0.15">53000</text>
<text x="621.70" y="135.30" font-size="6.9" font-weight="bold" text-anchor="middle" fill="#000" stroke="#000" stroke-width="0.15">54000</text>
<text x="588.00" y="146.00" font-size="7.6" font-weight="bold" text-anchor="middle" fill="#000">Mass (Da)</text>
<text x="499.30" y="77.00" font-size="7.6" font-weight="bold" text-anchor="middle" fill="#000" transform="rotate(-90 499.30 77.00)">Relative Intensity</text>
<text x="578.30" y="17.60" font-size="8.7" font-weight="bold" text-anchor="middle"><tspan fill="#000">Sample G020-</tspan><tspan fill="#2A5AAA">nG1m1</tspan></text>
<text x="551.30" y="31.40" font-size="6.4" font-weight="bold" text-anchor="middle" fill="#000" stroke="#000" stroke-width="0.15">1</text>
<text x="561.60" y="31.40" font-size="6.4" font-weight="bold" text-anchor="middle" fill="#000" stroke="#000" stroke-width="0.15">3</text>
<text x="569.70" y="31.40" font-size="6.4" font-weight="bold" text-anchor="middle" fill="#000" stroke="#000" stroke-width="0.15">4</text>
<text x="578.30" y="31.40" font-size="6.4" font-weight="bold" text-anchor="middle" fill="#000" stroke="#000" stroke-width="0.15">6</text>
<text x="586.50" y="31.40" font-size="6.4" font-weight="bold" text-anchor="middle" fill="#000" stroke="#000" stroke-width="0.15">10</text>
<text x="600.70" y="31.40" font-size="6.4" font-weight="bold" text-anchor="middle" fill="#000" stroke="#000" stroke-width="0.15">13</text>
<text x="558.90" y="40.60" font-size="6.4" font-weight="bold" text-anchor="middle" fill="#000" stroke="#000" stroke-width="0.15">2</text>
<text x="571.60" y="40.60" font-size="6.4" font-weight="bold" text-anchor="middle" fill="#000" stroke="#000" stroke-width="0.15">5</text>
<text x="579.70" y="40.60" font-size="6.4" font-weight="bold" text-anchor="middle" fill="#000" stroke="#000" stroke-width="0.15">7</text>
<text x="581.60" y="45.40" font-size="6.4" font-weight="bold" text-anchor="middle" fill="#000" stroke="#000" stroke-width="0.15">8</text>
<path d="M34.60,263.75 L34.97,265.08 L35.32,265.32 L35.55,265.32 L35.86,265.21 L36.28,265.05 L36.60,264.94 L37.05,264.93 L37.37,265.11 L37.69,265.17 L38.02,264.97 L38.39,264.84 L38.62,265.01 L39.02,265.21 L39.31,265.10 L39.80,265.09 L39.97,265.17 L40.46,265.26 L40.65,265.23 L41.12,265.11 L41.39,265.28 L41.74,265.16 L42.17,264.93 L42.35,264.93 L42.70,265.15 L43.21,265.17 L43.47,265.32 L43.65,261.85 L43.70,260.67 L43.73,260.93 L43.74,261.15 L44.25,265.08 L44.58,265.07 L44.75,265.15 L45.16,265.22 L45.44,265.22 L45.82,264.93 L46.22,265.12 L46.47,265.12 L46.92,265.13 L47.13,265.27 L47.49,265.22 L47.97,265.29 L48.22,265.27 L48.57,265.24 L48.95,265.23 L49.26,264.96 L49.58,265.15 L49.85,265.20 L50.34,265.08 L50.73,265.15 L51.07,265.12 L51.35,265.05 L51.63,265.28 L51.97,265.11 L52.38,265.29 L52.71,265.30 L52.94,265.05 L53.31,264.87 L53.67,264.94 L54.05,265.19 L54.45,265.18 L54.72,265.24 L54.97,265.01 L55.47,265.19 L55.73,265.29 L56.09,265.12 L56.37,265.06 L56.54,264.20 L56.58,263.71 L56.63,263.85 L56.76,265.05 L57.09,264.89 L57.51,265.07 L57.71,265.12 L58.15,265.18 L58.41,265.04 L58.86,264.97 L59.06,265.18 L59.45,265.13 L59.81,265.02 L60.21,265.08 L60.43,265.03 L60.86,265.03 L61.15,264.98 L61.50,265.13 L61.88,265.21 L62.32,265.37 L62.57,265.04 L63.00,264.95 L63.18,265.10 L63.68,264.90 L63.91,264.85 L64.21,265.17 L64.67,264.98 L64.87,264.51 L64.92,264.12 L64.97,264.30 L65.04,265.03 L65.20,265.36 L65.59,265.42 L66.04,265.41 L66.29,265.32 L66.61,265.35 L66.90,265.38 L67.25,265.07 L67.71,265.15 L68.13,265.14 L68.47,265.08 L68.71,264.90 L68.95,265.19 L69.36,265.27 L69.79,265.01 L70.14,264.89 L70.44,264.83 L70.70,264.99 L71.10,265.13 L71.43,265.26 L71.81,264.99 L72.07,264.94 L72.55,265.02 L72.88,264.95 L73.08,265.16 L73.44,265.12 L73.90,264.93 L74.12,265.22 L74.60,265.10 L74.85,265.25 L75.23,265.02 L75.57,264.92 L75.81,264.97 L76.17,265.09 L76.51,265.32 L76.93,265.20 L77.00,264.25 L77.05,263.74 L77.09,263.98 L77.28,265.02 L77.50,265.07 L78.00,265.07 L78.24,264.94 L78.55,264.87 L78.93,264.99 L79.38,265.05 L79.64,264.93 L79.99,265.10 L80.39,264.93 L80.74,265.26 L81.04,265.04 L81.31,265.07 L81.69,265.04 L82.09,264.86 L82.41,265.14 L82.71,265.17 L83.00,265.00 L83.35,264.96 L83.77,265.04 L84.07,264.96 L84.30,264.97 L84.78,264.89 L84.96,264.76 L85.01,264.47 L85.05,264.63 L85.17,265.34 L85.48,265.38 L85.85,265.43 L86.19,265.02 L86.45,265.24 L86.85,265.12 L87.10,265.28 L87.39,264.97 L87.78,265.04 L88.11,265.23 L88.58,265.01 L88.87,264.91 L89.18,264.82 L89.54,265.12 L89.78,265.16 L90.21,265.06 L90.58,265.19 L90.66,257.73 L90.69,255.36 L90.73,256.26 L90.86,264.72 L91.17,264.92 L91.54,265.13 L91.76,263.60 L91.83,262.95 L91.87,263.09 L91.90,263.30 L92.28,265.17 L92.51,265.20 L92.84,265.33 L93.23,265.21 L93.65,265.19 L93.77,207.06 L93.80,190.40 L93.83,196.80 L94.00,263.02 L94.33,264.89 L94.72,264.84 L94.95,240.02 L94.98,215.23 L95.01,200.89 L95.05,206.43 L95.22,263.65 L95.65,265.25 L95.94,254.15 L95.99,250.96 L96.00,250.80 L96.05,252.17 L96.27,264.22 L96.71,264.46 L96.96,260.72 L96.99,260.38 L97.13,259.21 L97.31,259.73 L97.31,259.75 L97.67,263.08 L98.14,264.88 L98.28,265.05 L98.70,264.90 L99.02,265.00 L99.35,262.72 L99.50,261.23 L99.74,259.91 L99.79,259.88 L100.03,260.31 L100.07,260.49 L100.52,262.69 L100.77,264.01 L101.16,265.05 L101.39,264.52 L101.79,263.38 L102.14,262.37 L102.16,262.36 L102.55,261.58 L102.77,261.44 L102.82,261.40 L103.15,261.50 L103.50,261.75 L103.57,261.84 L103.91,262.32 L104.13,262.69 L104.53,263.44 L104.92,264.07 L105.19,264.46 L105.58,265.00 L105.92,264.76 L106.16,264.25 L106.33,263.98 L106.58,263.72 L106.61,263.74 L106.95,263.77 L107.06,263.86 L107.22,264.04 L107.64,264.56 L107.90,264.90 L108.28,265.27 L108.59,264.97 L108.92,264.87 L109.23,264.95 L109.59,264.98 L109.99,265.22 L110.27,265.14 L110.57,265.28 L111.07,265.26 L111.30,265.13 L111.78,265.27 L112.05,265.30 L112.35,265.08 L112.79,265.11 L113.13,264.94 L113.36,265.20 L113.66,265.34 L114.11,265.00 L114.49,265.02 L114.78,264.99 L115.16,265.04 L115.42,265.25 L115.81,264.95 L116.07,265.05 L116.44,264.90 L116.78,265.19 L117.12,265.25 L117.47,265.15 L117.89,265.24 L118.10,265.00 L118.45,265.18 L118.80,265.33 L119.29,265.36 L119.54,265.32 L119.78,264.99 L120.28,264.89 L120.63,264.95 L120.96,265.08 L121.21,265.31 L121.63,265.04 L121.88,265.26 L122.19,265.31 L122.68,265.22 L123.01,264.99 L123.23,265.21 L123.70,265.35 L123.87,265.03 L124.27,265.30 L124.55,265.08 L124.92,265.27 L125.26,265.27 L125.72,265.31 L125.97,265.22 L126.29,264.97 L126.63,264.90 L127.00,265.01 L127.45,265.26 L127.74,265.32 L127.98,265.29 L128.44,265.05 L128.75,264.90 L129.07,265.25 L129.24,265.24 L129.35,264.96 L129.43,265.21 L129.46,265.34 L129.80,265.31 L130.17,265.02 L130.45,265.18 L130.82,265.04 L131.12,265.26 L131.50,265.10 L131.79,265.26 L132.14,265.13 L132.50,265.01 L132.88,264.90 L133.13,265.06 L133.61,264.87 L133.86,265.06 L134.27,264.89 L134.58,264.84 L134.98,264.78 L135.26,265.16 L135.55,265.24 L135.89,265.08 L136.27,264.92 L136.64,265.15 L137.00,265.01 L137.20,265.08 L137.52,265.33 L137.87,265.39 L138.21,265.45 L138.54,265.37 L138.88,265.02 L139.27,265.00 L139.58,264.90 L140.04,264.84 L140.36,265.05 L140.78,265.00 L141.12,265.00 L141.41,264.98 L141.80,265.25 L141.95,264.99 L142.33,265.22 L142.56,264.53 L142.62,264.08 L142.67,264.22 L142.82,264.91 L143.06,265.12 L143.35,265.21 L143.80,265.05 L144.08,265.30 L144.44,265.02 L144.74,265.16 L145.06,265.18 L145.37,265.23 L145.82,265.06 L146.23,265.24 L146.58,265.33 L146.88,265.40 L147.25,265.40 L147.48,265.17 L147.80,264.92 L148.27,265.26" fill="none" stroke="#111" stroke-width="0.7" stroke-linejoin="round"/>
<line x1="34.60" y1="190.00" x2="34.60" y2="266.50" stroke="#000" stroke-width="0.8"/>
<line x1="34.20" y1="266.10" x2="148.30" y2="266.10" stroke="#000" stroke-width="0.8"/>
<line x1="32.10" y1="266.10" x2="34.60" y2="266.10" stroke="#000" stroke-width="0.85"/>
<line x1="33.10" y1="262.31" x2="34.60" y2="262.31" stroke="#000" stroke-width="0.85"/>
<line x1="33.10" y1="258.53" x2="34.60" y2="258.53" stroke="#000" stroke-width="0.85"/>
<line x1="33.10" y1="254.75" x2="34.60" y2="254.75" stroke="#000" stroke-width="0.85"/>
<line x1="33.10" y1="250.96" x2="34.60" y2="250.96" stroke="#000" stroke-width="0.85"/>
<line x1="33.10" y1="247.18" x2="34.60" y2="247.18" stroke="#000" stroke-width="0.85"/>
<line x1="33.10" y1="243.39" x2="34.60" y2="243.39" stroke="#000" stroke-width="0.85"/>
<line x1="33.10" y1="239.61" x2="34.60" y2="239.61" stroke="#000" stroke-width="0.85"/>
<line x1="33.10" y1="235.82" x2="34.60" y2="235.82" stroke="#000" stroke-width="0.85"/>
<line x1="33.10" y1="232.04" x2="34.60" y2="232.04" stroke="#000" stroke-width="0.85"/>
<line x1="32.10" y1="228.25" x2="34.60" y2="228.25" stroke="#000" stroke-width="0.85"/>
<line x1="33.10" y1="224.47" x2="34.60" y2="224.47" stroke="#000" stroke-width="0.85"/>
<line x1="33.10" y1="220.68" x2="34.60" y2="220.68" stroke="#000" stroke-width="0.85"/>
<line x1="33.10" y1="216.90" x2="34.60" y2="216.90" stroke="#000" stroke-width="0.85"/>
<line x1="33.10" y1="213.11" x2="34.60" y2="213.11" stroke="#000" stroke-width="0.85"/>
<line x1="33.10" y1="209.33" x2="34.60" y2="209.33" stroke="#000" stroke-width="0.85"/>
<line x1="33.10" y1="205.54" x2="34.60" y2="205.54" stroke="#000" stroke-width="0.85"/>
<line x1="33.10" y1="201.75" x2="34.60" y2="201.75" stroke="#000" stroke-width="0.85"/>
<line x1="33.10" y1="197.97" x2="34.60" y2="197.97" stroke="#000" stroke-width="0.85"/>
<line x1="33.10" y1="194.19" x2="34.60" y2="194.19" stroke="#000" stroke-width="0.85"/>
<line x1="32.10" y1="190.40" x2="34.60" y2="190.40" stroke="#000" stroke-width="0.85"/>
<line x1="34.60" y1="266.10" x2="34.60" y2="268.60" stroke="#000" stroke-width="0.85"/>
<line x1="38.39" y1="266.10" x2="38.39" y2="267.60" stroke="#000" stroke-width="0.85"/>
<line x1="42.18" y1="266.10" x2="42.18" y2="267.60" stroke="#000" stroke-width="0.85"/>
<line x1="45.97" y1="266.10" x2="45.97" y2="267.60" stroke="#000" stroke-width="0.85"/>
<line x1="49.76" y1="266.10" x2="49.76" y2="267.60" stroke="#000" stroke-width="0.85"/>
<line x1="53.55" y1="266.10" x2="53.55" y2="267.60" stroke="#000" stroke-width="0.85"/>
<line x1="57.34" y1="266.10" x2="57.34" y2="267.60" stroke="#000" stroke-width="0.85"/>
<line x1="61.13" y1="266.10" x2="61.13" y2="267.60" stroke="#000" stroke-width="0.85"/>
<line x1="64.92" y1="266.10" x2="64.92" y2="267.60" stroke="#000" stroke-width="0.85"/>
<line x1="68.71" y1="266.10" x2="68.71" y2="267.60" stroke="#000" stroke-width="0.85"/>
<line x1="72.50" y1="266.10" x2="72.50" y2="268.60" stroke="#000" stroke-width="0.85"/>
<line x1="76.29" y1="266.10" x2="76.29" y2="267.60" stroke="#000" stroke-width="0.85"/>
<line x1="80.08" y1="266.10" x2="80.08" y2="267.60" stroke="#000" stroke-width="0.85"/>
<line x1="83.87" y1="266.10" x2="83.87" y2="267.60" stroke="#000" stroke-width="0.85"/>
<line x1="87.66" y1="266.10" x2="87.66" y2="267.60" stroke="#000" stroke-width="0.85"/>
<line x1="91.45" y1="266.10" x2="91.45" y2="267.60" stroke="#000" stroke-width="0.85"/>
<line x1="95.24" y1="266.10" x2="95.24" y2="267.60" stroke="#000" stroke-width="0.85"/>
<line x1="99.03" y1="266.10" x2="99.03" y2="267.60" stroke="#000" stroke-width="0.85"/>
<line x1="102.82" y1="266.10" x2="102.82" y2="267.60" stroke="#000" stroke-width="0.85"/>
<line x1="106.61" y1="266.10" x2="106.61" y2="267.60" stroke="#000" stroke-width="0.85"/>
<line x1="110.40" y1="266.10" x2="110.40" y2="268.60" stroke="#000" stroke-width="0.85"/>
<line x1="114.19" y1="266.10" x2="114.19" y2="267.60" stroke="#000" stroke-width="0.85"/>
<line x1="117.98" y1="266.10" x2="117.98" y2="267.60" stroke="#000" stroke-width="0.85"/>
<line x1="121.77" y1="266.10" x2="121.77" y2="267.60" stroke="#000" stroke-width="0.85"/>
<line x1="125.56" y1="266.10" x2="125.56" y2="267.60" stroke="#000" stroke-width="0.85"/>
<line x1="129.35" y1="266.10" x2="129.35" y2="267.60" stroke="#000" stroke-width="0.85"/>
<line x1="133.14" y1="266.10" x2="133.14" y2="267.60" stroke="#000" stroke-width="0.85"/>
<line x1="136.93" y1="266.10" x2="136.93" y2="267.60" stroke="#000" stroke-width="0.85"/>
<line x1="140.72" y1="266.10" x2="140.72" y2="267.60" stroke="#000" stroke-width="0.85"/>
<line x1="144.51" y1="266.10" x2="144.51" y2="267.60" stroke="#000" stroke-width="0.85"/>
<line x1="148.30" y1="266.10" x2="148.30" y2="268.60" stroke="#000" stroke-width="0.85"/>
<text x="31.40" y="268.12" font-size="5.6" font-weight="bold" text-anchor="end" fill="#000" stroke="#000" stroke-width="0.15">0</text>
<text x="31.40" y="230.27" font-size="5.6" font-weight="bold" text-anchor="end" fill="#000" stroke="#000" stroke-width="0.15">50</text>
<text x="31.40" y="192.42" font-size="5.6" font-weight="bold" text-anchor="end" fill="#000" stroke="#000" stroke-width="0.15">100</text>
<text x="34.60" y="274.50" font-size="5.6" font-weight="bold" text-anchor="middle" fill="#000" stroke="#000" stroke-width="0.15">49000</text>
<text x="72.50" y="274.50" font-size="5.6" font-weight="bold" text-anchor="middle" fill="#000" stroke="#000" stroke-width="0.15">50000</text>
<text x="110.40" y="274.50" font-size="5.6" font-weight="bold" text-anchor="middle" fill="#000" stroke="#000" stroke-width="0.15">51000</text>
<text x="148.30" y="274.50" font-size="5.6" font-weight="bold" text-anchor="middle" fill="#000" stroke="#000" stroke-width="0.15">52000</text>
<text x="91.80" y="285.20" font-size="6.2" font-weight="bold" text-anchor="middle" fill="#000" stroke="#000" stroke-width="0.15">Mass (Da)</text>
<text x="18.20" y="228.30" font-size="6.2" font-weight="bold" text-anchor="middle" fill="#000" stroke="#000" stroke-width="0.15" transform="rotate(-90 18.20 228.30)">Relative Intensity</text>
<text x="99.50" y="173.80" font-size="8.1" font-weight="bold" text-anchor="middle"><tspan fill="#000">Sample G013 + EndoS2</tspan></text>
<text x="69.60" y="205.70" font-size="6.6" font-weight="bold" text-anchor="start" fill="#F87828" stroke="#F87828" stroke-width="0.15">G1m1</text>
<text x="69.60" y="213.90" font-size="6.6" font-weight="bold" text-anchor="start" fill="#222" stroke="#222" stroke-width="0.15">50562</text>
<text x="104.20" y="213.10" font-size="6.6" font-weight="bold" text-anchor="start" fill="#3EAA1A" stroke="#3EAA1A" stroke-width="0.15">G1m1,27</text>
<text x="104.20" y="221.60" font-size="6.6" font-weight="bold" text-anchor="start" fill="#222" stroke="#222" stroke-width="0.15">50594</text>
<line x1="192.30" y1="189.50" x2="192.30" y2="266.00" stroke="#333" stroke-width="0.75" stroke-dasharray="0.9 1.4"/>
<line x1="200.50" y1="189.50" x2="200.50" y2="266.00" stroke="#333" stroke-width="0.75" stroke-dasharray="0.9 1.4"/>
<line x1="207.30" y1="189.50" x2="207.30" y2="266.00" stroke="#333" stroke-width="0.75" stroke-dasharray="0.9 1.4"/>
<line x1="209.00" y1="196.50" x2="209.00" y2="266.00" stroke="#333" stroke-width="0.75" stroke-dasharray="0.9 1.4"/>
<line x1="214.40" y1="189.50" x2="214.40" y2="266.00" stroke="#333" stroke-width="0.75" stroke-dasharray="0.9 1.4"/>
<path d="M168.70,263.73 L169.09,263.22 L169.55,264.22 L170.23,264.26 L170.61,264.04 L171.11,263.67 L171.54,264.77 L171.96,263.98 L172.53,264.48 L172.96,263.47 L173.49,264.09 L173.92,263.37 L174.45,264.01 L174.80,263.81 L175.19,264.75 L175.66,264.67 L176.30,264.50 L176.61,264.35 L177.17,259.30 L177.22,257.78 L177.26,257.48 L177.35,258.00 L177.68,263.31 L177.99,263.32 L178.67,263.69 L178.93,263.19 L179.63,263.48 L180.10,263.68 L180.39,264.00 L181.00,264.64 L181.48,263.46 L181.78,263.22 L182.40,263.29 L182.72,263.48 L183.41,263.29 L183.82,263.00 L184.03,260.05 L184.11,258.61 L184.19,259.59 L184.37,263.13 L184.58,263.58 L185.13,263.79 L185.68,260.54 L185.74,256.86 L185.82,254.44 L185.90,255.18 L186.15,263.44 L186.50,264.26 L187.17,263.01 L187.63,262.75 L187.95,262.73 L188.37,263.20 L188.99,263.46 L189.39,263.33 L189.93,263.38 L190.35,262.40 L190.80,262.19 L191.16,262.12 L191.67,262.61 L192.23,262.62 L192.45,244.10 L192.50,238.17 L192.55,240.63 L192.78,261.88 L193.16,262.67 L193.45,249.70 L193.52,245.02 L193.60,246.98 L193.72,254.26 L194.13,262.72 L194.70,261.58 L195.11,262.45 L195.49,261.38 L195.90,261.90 L196.35,261.05 L196.82,259.14 L196.87,255.29 L196.95,252.77 L197.03,253.57 L197.52,261.46 L198.00,261.19 L198.43,261.56 L198.72,260.78 L199.35,261.07 L199.67,260.30 L200.35,259.32 L200.76,259.26 L200.96,205.86 L201.01,189.30 L201.07,195.40 L201.26,255.27 L201.69,258.81 L202.10,259.80 L202.45,210.87 L202.51,194.95 L202.58,201.05 L202.70,232.13 L203.20,259.16 L203.47,258.89 L203.99,259.16 L204.15,252.72 L204.22,249.06 L204.30,250.32 L204.55,258.78 L205.00,258.78 L205.40,258.50 L205.88,258.57 L206.29,257.41 L206.36,254.85 L206.44,256.03 L206.50,257.68 L206.77,258.38 L207.22,258.47 L207.83,258.13 L208.02,226.71 L208.08,215.60 L208.13,219.94 L208.18,232.02 L208.83,258.22 L209.14,258.25 L209.28,250.97 L209.36,246.67 L209.44,248.32 L209.78,258.46 L210.10,258.33 L210.71,257.37 L211.14,257.89 L211.42,256.54 L211.50,254.14 L211.58,255.06 L211.61,255.96 L211.93,257.93 L212.39,257.50 L212.82,258.01 L213.34,258.35 L213.94,258.98 L214.24,259.36 L214.76,259.04 L215.09,244.85 L215.14,239.04 L215.19,240.99 L215.33,258.07 L215.68,259.28 L216.20,259.68 L216.56,253.82 L216.64,250.21 L216.64,250.13 L216.71,251.68 L217.24,259.25 L217.56,259.01 L218.27,260.16 L218.63,260.30 L219.13,259.17 L219.14,258.61 L219.20,257.33 L219.28,257.81 L219.56,260.82 L220.02,260.40 L220.62,260.58 L221.07,261.69 L221.52,261.57 L221.77,260.79 L222.40,261.53 L222.55,256.36 L222.63,253.49 L222.71,254.48 L222.97,261.70 L223.35,261.92 L223.79,261.25 L224.30,261.67 L224.63,262.18 L225.26,262.44 L225.55,258.41 L225.62,256.60 L225.70,257.32 L225.75,258.26 L226.02,263.13 L226.61,263.38 L227.11,263.67 L227.51,262.80 L228.07,262.52 L228.54,260.22 L228.61,258.74 L228.62,259.01 L228.70,259.50 L229.08,263.34 L229.38,263.55 L229.81,263.78 L230.47,263.72 L230.88,263.97 L231.41,264.33 L231.89,263.64 L232.20,264.40 L232.75,263.95 L233.14,263.93 L233.75,263.32 L234.20,263.38 L234.54,263.81 L235.08,264.64 L235.58,263.71 L235.95,263.51 L236.41,263.63 L236.96,263.11 L237.32,263.81 L237.91,264.11 L238.50,263.97 L238.94,264.63 L239.19,263.93 L239.88,264.60 L240.32,263.88 L240.79,263.83 L241.07,263.71 L241.75,264.46 L242.06,263.75 L242.70,263.20 L243.04,263.01 L243.52,263.29 L243.94,264.29 L244.60,263.46 L244.89,264.24 L245.55,263.07 L245.92,264.33 L246.28,264.58 L246.90,263.97 L247.33,264.34 L247.66,263.00 L248.36,262.72 L248.67,263.72 L249.07,262.92 L249.75,263.54 L250.21,262.89 L250.59,263.85 L251.00,262.71 L251.57,263.23 L252.06,263.64 L252.56,263.36 L252.97,263.98 L253.46,264.02 L253.98,263.29 L254.30,262.94 L254.77,262.19 L255.32,262.77 L255.87,263.14 L256.35,263.31 L256.84,263.69 L257.19,262.32 L257.74,262.35 L258.04,263.04 L258.59,262.35 L258.97,262.30 L259.66,262.32 L260.18,262.59 L260.55,261.96 L261.05,261.71 L261.41,261.90 L262.00,262.81 L262.27,262.57 L262.82,262.16 L263.29,261.56 L263.90,262.11 L264.18,262.25 L264.65,262.90 L265.10,263.01 L265.78,262.66 L266.10,261.92 L266.74,262.46 L267.04,261.70 L267.66,261.68 L267.95,262.23 L268.62,261.91 L269.11,261.32 L269.56,262.46 L269.98,261.71 L270.50,261.32 L270.98,260.87 L271.47,261.76 L271.74,261.44 L272.37,261.06 L272.83,261.76 L273.17,261.13 L273.59,261.01 L274.27,260.62 L274.62,261.38 L275.11,261.99 L275.68,261.42 L276.04,261.03 L276.44,260.55 L277.04,260.66 L277.46,260.99 L277.86,260.54 L278.45,260.42 L278.98,260.74 L279.27,261.33 L279.90,261.83 L280.35,260.98 L280.76,261.70 L281.13,261.28 L281.74,260.13 L282.10,261.05 L282.56,260.52 L283.20,260.29 L283.51,260.89 L283.93,260.53" fill="none" stroke="#111" stroke-width="0.7" stroke-linejoin="round"/>
<line x1="168.70" y1="188.90" x2="168.70" y2="266.40" stroke="#000" stroke-width="0.8"/>
<line x1="168.30" y1="266.00" x2="284.00" y2="266.00" stroke="#000" stroke-width="0.8"/>
<line x1="166.20" y1="266.00" x2="168.70" y2="266.00" stroke="#000" stroke-width="0.85"/>
<line x1="167.20" y1="262.17" x2="168.70" y2="262.17" stroke="#000" stroke-width="0.85"/>
<line x1="167.20" y1="258.33" x2="168.70" y2="258.33" stroke="#000" stroke-width="0.85"/>
<line x1="167.20" y1="254.50" x2="168.70" y2="254.50" stroke="#000" stroke-width="0.85"/>
<line x1="167.20" y1="250.66" x2="168.70" y2="250.66" stroke="#000" stroke-width="0.85"/>
<line x1="167.20" y1="246.82" x2="168.70" y2="246.82" stroke="#000" stroke-width="0.85"/>
<line x1="167.20" y1="242.99" x2="168.70" y2="242.99" stroke="#000" stroke-width="0.85"/>
<line x1="167.20" y1="239.16" x2="168.70" y2="239.16" stroke="#000" stroke-width="0.85"/>
<line x1="167.20" y1="235.32" x2="168.70" y2="235.32" stroke="#000" stroke-width="0.85"/>
<line x1="167.20" y1="231.49" x2="168.70" y2="231.49" stroke="#000" stroke-width="0.85"/>
<line x1="166.20" y1="227.65" x2="168.70" y2="227.65" stroke="#000" stroke-width="0.85"/>
<line x1="167.20" y1="223.81" x2="168.70" y2="223.81" stroke="#000" stroke-width="0.85"/>
<line x1="167.20" y1="219.98" x2="168.70" y2="219.98" stroke="#000" stroke-width="0.85"/>
<line x1="167.20" y1="216.15" x2="168.70" y2="216.15" stroke="#000" stroke-width="0.85"/>
<line x1="167.20" y1="212.31" x2="168.70" y2="212.31" stroke="#000" stroke-width="0.85"/>
<line x1="167.20" y1="208.48" x2="168.70" y2="208.48" stroke="#000" stroke-width="0.85"/>
<line x1="167.20" y1="204.64" x2="168.70" y2="204.64" stroke="#000" stroke-width="0.85"/>
<line x1="167.20" y1="200.81" x2="168.70" y2="200.81" stroke="#000" stroke-width="0.85"/>
<line x1="167.20" y1="196.97" x2="168.70" y2="196.97" stroke="#000" stroke-width="0.85"/>
<line x1="167.20" y1="193.13" x2="168.70" y2="193.13" stroke="#000" stroke-width="0.85"/>
<line x1="166.20" y1="189.30" x2="168.70" y2="189.30" stroke="#000" stroke-width="0.85"/>
<line x1="168.70" y1="266.00" x2="168.70" y2="268.50" stroke="#000" stroke-width="0.85"/>
<line x1="172.98" y1="266.00" x2="172.98" y2="267.50" stroke="#000" stroke-width="0.85"/>
<line x1="177.26" y1="266.00" x2="177.26" y2="267.50" stroke="#000" stroke-width="0.85"/>
<line x1="181.54" y1="266.00" x2="181.54" y2="267.50" stroke="#000" stroke-width="0.85"/>
<line x1="185.82" y1="266.00" x2="185.82" y2="267.50" stroke="#000" stroke-width="0.85"/>
<line x1="190.10" y1="266.00" x2="190.10" y2="267.50" stroke="#000" stroke-width="0.85"/>
<line x1="194.38" y1="266.00" x2="194.38" y2="267.50" stroke="#000" stroke-width="0.85"/>
<line x1="198.66" y1="266.00" x2="198.66" y2="267.50" stroke="#000" stroke-width="0.85"/>
<line x1="202.94" y1="266.00" x2="202.94" y2="267.50" stroke="#000" stroke-width="0.85"/>
<line x1="207.22" y1="266.00" x2="207.22" y2="267.50" stroke="#000" stroke-width="0.85"/>
<line x1="211.50" y1="266.00" x2="211.50" y2="268.50" stroke="#000" stroke-width="0.85"/>
<line x1="215.78" y1="266.00" x2="215.78" y2="267.50" stroke="#000" stroke-width="0.85"/>
<line x1="220.06" y1="266.00" x2="220.06" y2="267.50" stroke="#000" stroke-width="0.85"/>
<line x1="224.34" y1="266.00" x2="224.34" y2="267.50" stroke="#000" stroke-width="0.85"/>
<line x1="228.62" y1="266.00" x2="228.62" y2="267.50" stroke="#000" stroke-width="0.85"/>
<line x1="232.90" y1="266.00" x2="232.90" y2="267.50" stroke="#000" stroke-width="0.85"/>
<line x1="237.18" y1="266.00" x2="237.18" y2="267.50" stroke="#000" stroke-width="0.85"/>
<line x1="241.46" y1="266.00" x2="241.46" y2="267.50" stroke="#000" stroke-width="0.85"/>
<line x1="245.74" y1="266.00" x2="245.74" y2="267.50" stroke="#000" stroke-width="0.85"/>
<line x1="250.02" y1="266.00" x2="250.02" y2="267.50" stroke="#000" stroke-width="0.85"/>
<line x1="254.30" y1="266.00" x2="254.30" y2="268.50" stroke="#000" stroke-width="0.85"/>
<line x1="258.58" y1="266.00" x2="258.58" y2="267.50" stroke="#000" stroke-width="0.85"/>
<line x1="262.86" y1="266.00" x2="262.86" y2="267.50" stroke="#000" stroke-width="0.85"/>
<line x1="267.14" y1="266.00" x2="267.14" y2="267.50" stroke="#000" stroke-width="0.85"/>
<line x1="271.42" y1="266.00" x2="271.42" y2="267.50" stroke="#000" stroke-width="0.85"/>
<line x1="275.70" y1="266.00" x2="275.70" y2="267.50" stroke="#000" stroke-width="0.85"/>
<line x1="279.98" y1="266.00" x2="279.98" y2="267.50" stroke="#000" stroke-width="0.85"/>
<text x="165.50" y="268.02" font-size="5.6" font-weight="bold" text-anchor="end" fill="#000" stroke="#000" stroke-width="0.15">0</text>
<text x="165.50" y="229.67" font-size="5.6" font-weight="bold" text-anchor="end" fill="#000" stroke="#000" stroke-width="0.15">50</text>
<text x="165.50" y="191.32" font-size="5.6" font-weight="bold" text-anchor="end" fill="#000" stroke="#000" stroke-width="0.15">100</text>
<text x="168.70" y="274.80" font-size="5.6" font-weight="bold" text-anchor="middle" fill="#000" stroke="#000" stroke-width="0.15">52000</text>
<text x="211.50" y="274.80" font-size="5.6" font-weight="bold" text-anchor="middle" fill="#000" stroke="#000" stroke-width="0.15">53000</text>
<text x="254.30" y="274.80" font-size="5.6" font-weight="bold" text-anchor="middle" fill="#000" stroke="#000" stroke-width="0.15">54000</text>
<text x="226.00" y="284.60" font-size="6.3" font-weight="bold" text-anchor="middle" fill="#000" stroke="#000" stroke-width="0.15">Mass (Da)</text>
<text x="151.00" y="228.00" font-size="6.3" font-weight="bold" text-anchor="middle" fill="#000" stroke="#000" stroke-width="0.15" transform="rotate(-90 151.00 228.00)">Relative Intensity</text>
<text x="225.40" y="173.60" font-size="8.1" font-weight="bold" text-anchor="middle"><tspan fill="#000">Sample G013-</tspan><tspan fill="#F87828">G1m1</tspan></text>
<text x="192.30" y="188.00" font-size="5.6" font-weight="bold" text-anchor="middle" fill="#000" stroke="#000" stroke-width="0.15">1</text>
<text x="200.50" y="188.00" font-size="5.6" font-weight="bold" text-anchor="middle" fill="#000" stroke="#000" stroke-width="0.15">3</text>
<text x="207.30" y="188.00" font-size="5.6" font-weight="bold" text-anchor="middle" fill="#000" stroke="#000" stroke-width="0.15">4</text>
<text x="214.40" y="188.00" font-size="5.6" font-weight="bold" text-anchor="middle" fill="#000" stroke="#000" stroke-width="0.15">6</text>
<text x="209.00" y="195.00" font-size="5.6" font-weight="bold" text-anchor="middle" fill="#000" stroke="#000" stroke-width="0.15">5</text>
<line x1="320.40" y1="190.30" x2="320.40" y2="266.00" stroke="#333" stroke-width="0.75" stroke-dasharray="0.9 1.4"/>
<line x1="327.40" y1="197.30" x2="327.40" y2="266.00" stroke="#333" stroke-width="0.75" stroke-dasharray="0.9 1.4"/>
<line x1="328.70" y1="190.30" x2="328.70" y2="266.00" stroke="#333" stroke-width="0.75" stroke-dasharray="0.9 1.4"/>
<line x1="335.70" y1="190.30" x2="335.70" y2="266.00" stroke="#333" stroke-width="0.75" stroke-dasharray="0.9 1.4"/>
<line x1="337.40" y1="197.30" x2="337.40" y2="266.00" stroke="#333" stroke-width="0.75" stroke-dasharray="0.9 1.4"/>
<line x1="342.30" y1="190.30" x2="342.30" y2="266.00" stroke="#333" stroke-width="0.75" stroke-dasharray="0.9 1.4"/>
<path d="M295.84,264.71 L296.13,264.39 L296.66,263.88 L297.10,264.37 L297.70,264.44 L298.15,263.77 L298.67,264.71 L298.90,264.28 L299.46,263.34 L299.81,263.16 L300.32,264.58 L300.86,264.64 L301.19,264.57 L301.69,263.50 L302.28,263.36 L302.71,263.34 L303.08,264.13 L303.64,264.62 L304.07,259.07 L304.16,257.22 L304.16,257.27 L304.25,257.82 L304.40,261.32 L305.08,264.75 L305.51,263.68 L305.87,264.28 L306.28,263.82 L306.96,263.28 L307.25,264.44 L307.64,264.69 L308.10,264.74 L308.77,264.03 L309.16,264.32 L309.68,263.83 L310.12,263.53 L310.52,264.27 L310.77,260.34 L310.85,258.97 L310.92,259.48 L311.10,263.10 L311.40,263.14 L311.91,264.28 L312.44,256.96 L312.44,256.94 L312.52,254.56 L312.60,255.21 L312.85,263.42 L313.37,263.96 L313.75,263.28 L314.25,263.39 L314.53,263.58 L315.04,264.22 L315.51,264.19 L315.92,262.85 L316.42,262.48 L316.84,262.91 L317.35,262.45 L317.91,262.66 L318.29,263.33 L318.75,263.40 L318.99,244.53 L319.04,238.18 L319.09,240.53 L319.17,250.39 L319.65,261.71 L319.97,249.81 L320.04,245.32 L320.12,247.17 L320.29,257.77 L320.67,261.52 L321.12,262.07 L321.46,261.76 L322.07,262.25 L322.38,261.07 L322.89,260.77 L323.31,255.37 L323.39,252.58 L323.46,253.67 L323.52,256.22 L323.89,260.86 L324.32,261.16 L324.82,260.13 L325.32,259.97 L325.76,259.71 L326.07,259.66 L326.48,260.38 L327.02,259.53 L327.31,206.68 L327.36,190.00 L327.41,196.05 L327.46,213.84 L327.91,259.17 L328.57,259.36 L328.76,211.34 L328.82,195.66 L328.88,201.91 L329.01,234.67 L329.31,259.78 L329.87,259.36 L330.26,258.35 L330.42,252.43 L330.49,249.04 L330.57,250.37 L330.86,258.79 L331.19,257.85 L331.60,258.28 L332.05,257.65 L332.51,257.56 L332.58,254.87 L332.60,255.23 L332.66,255.78 L332.98,258.46 L333.53,258.81 L334.07,258.32 L334.21,227.14 L334.26,216.37 L334.31,220.52 L334.40,241.05 L334.81,258.21 L335.43,250.88 L335.48,247.55 L335.51,246.63 L335.59,248.56 L335.81,257.50 L336.15,257.87 L336.60,257.68 L337.07,257.64 L337.52,256.72 L337.60,254.35 L337.68,255.50 L337.68,255.29 L338.18,258.49 L338.54,258.65 L338.90,257.89 L339.45,258.05 L340.08,258.88 L340.41,259.09 L340.99,259.12 L341.10,245.05 L341.15,239.21 L341.20,241.59 L341.42,259.30 L341.65,258.47 L342.30,258.92 L342.54,253.65 L342.62,250.41 L342.69,251.89 L342.75,254.26 L343.17,260.42 L343.55,260.27 L344.12,260.19 L344.43,260.01 L344.98,260.04 L345.05,259.19 L345.12,257.37 L345.20,258.20 L345.45,260.62 L346.04,260.10 L346.48,260.28 L346.77,261.38 L347.30,261.91 L347.67,261.43 L348.33,260.34 L348.39,256.30 L348.47,253.41 L348.54,254.44 L348.78,261.32 L349.08,262.15 L349.63,262.52 L350.09,262.97 L350.42,262.79 L351.05,262.55 L351.32,258.44 L351.39,256.75 L351.45,257.05 L351.47,257.32 L351.97,263.09 L352.36,262.51 L352.68,262.77 L353.23,263.33 L353.60,262.84 L354.24,260.60 L354.31,258.80 L354.32,258.72 L354.40,259.61 L354.76,263.46 L355.21,263.87 L355.52,262.75 L355.91,263.27 L356.60,264.19 L357.08,264.11 L357.30,263.15 L357.87,263.64 L358.21,263.21 L358.86,263.39 L359.33,262.95 L359.61,263.49 L360.17,263.08 L360.65,263.11 L361.03,263.57 L361.65,263.52 L361.99,263.86 L362.39,263.42 L362.94,263.80 L363.45,263.33 L363.77,263.49 L364.26,263.96 L364.91,264.40 L365.27,264.52 L365.67,263.93 L366.15,263.61 L366.50,263.94 L366.99,263.83 L367.48,264.33 L368.01,264.71 L368.37,264.44 L368.83,264.38 L369.25,264.27 L369.86,263.85 L370.21,264.39 L370.86,264.30 L371.31,263.53 L371.55,263.34 L372.05,264.29 L372.63,263.89 L372.97,263.58 L373.40,263.69 L374.09,264.00 L374.45,263.70 L374.88,262.85 L375.42,263.15 L375.89,263.00 L376.18,262.70 L376.61,262.75 L377.17,263.34 L377.62,264.02 L378.10,263.57 L378.63,262.81 L379.07,262.48 L379.62,262.21 L379.83,263.00 L380.38,262.59 L380.82,262.81 L381.42,262.71 L381.71,263.29 L382.16,263.37 L382.69,263.01 L383.14,263.55 L383.56,263.15 L384.01,262.50 L384.66,262.76 L384.99,263.17 L385.56,262.73 L385.93,263.16 L386.26,262.44 L386.98,263.19 L387.39,262.73 L387.89,262.34 L388.34,263.08 L388.78,262.23 L389.05,262.85 L389.60,262.41 L389.98,262.95 L390.49,262.51 L390.86,262.66 L391.41,262.47 L392.03,261.70 L392.29,262.14 L392.90,261.60 L393.27,261.34 L393.72,262.17 L394.32,262.57 L394.79,262.72 L395.13,261.91 L395.64,260.98 L395.94,261.80 L396.44,261.46 L397.09,261.14 L397.44,261.26 L397.89,261.09 L398.40,260.71 L398.67,261.81 L399.28,262.27 L399.72,262.13 L400.27,262.10 L400.54,261.22 L401.22,261.16 L401.44,261.69 L401.93,261.00 L402.50,260.72 L402.98,261.58 L403.32,261.03 L403.75,260.67 L404.42,261.55 L404.70,260.60 L405.26,260.14 L405.73,261.38 L406.13,261.73 L406.63,261.31 L407.08,260.62 L407.65,260.00 L407.91,260.75 L408.51,260.35" fill="none" stroke="#111" stroke-width="0.7" stroke-linejoin="round"/>
<line x1="295.80" y1="189.60" x2="295.80" y2="266.40" stroke="#000" stroke-width="0.8"/>
<line x1="295.40" y1="266.00" x2="410.00" y2="266.00" stroke="#000" stroke-width="0.8"/>
<line x1="293.30" y1="266.00" x2="295.80" y2="266.00" stroke="#000" stroke-width="0.85"/>
<line x1="294.30" y1="262.20" x2="295.80" y2="262.20" stroke="#000" stroke-width="0.85"/>
<line x1="294.30" y1="258.40" x2="295.80" y2="258.40" stroke="#000" stroke-width="0.85"/>
<line x1="294.30" y1="254.60" x2="295.80" y2="254.60" stroke="#000" stroke-width="0.85"/>
<line x1="294.30" y1="250.80" x2="295.80" y2="250.80" stroke="#000" stroke-width="0.85"/>
<line x1="294.30" y1="247.00" x2="295.80" y2="247.00" stroke="#000" stroke-width="0.85"/>
<line x1="294.30" y1="243.20" x2="295.80" y2="243.20" stroke="#000" stroke-width="0.85"/>
<line x1="294.30" y1="239.40" x2="295.80" y2="239.40" stroke="#000" stroke-width="0.85"/>
<line x1="294.30" y1="235.60" x2="295.80" y2="235.60" stroke="#000" stroke-width="0.85"/>
<line x1="294.30" y1="231.80" x2="295.80" y2="231.80" stroke="#000" stroke-width="0.85"/>
<line x1="293.30" y1="228.00" x2="295.80" y2="228.00" stroke="#000" stroke-width="0.85"/>
<line x1="294.30" y1="224.20" x2="295.80" y2="224.20" stroke="#000" stroke-width="0.85"/>
<line x1="294.30" y1="220.40" x2="295.80" y2="220.40" stroke="#000" stroke-width="0.85"/>
<line x1="294.30" y1="216.60" x2="295.80" y2="216.60" stroke="#000" stroke-width="0.85"/>
<line x1="294.30" y1="212.80" x2="295.80" y2="212.80" stroke="#000" stroke-width="0.85"/>
<line x1="294.30" y1="209.00" x2="295.80" y2="209.00" stroke="#000" stroke-width="0.85"/>
<line x1="294.30" y1="205.20" x2="295.80" y2="205.20" stroke="#000" stroke-width="0.85"/>
<line x1="294.30" y1="201.40" x2="295.80" y2="201.40" stroke="#000" stroke-width="0.85"/>
<line x1="294.30" y1="197.60" x2="295.80" y2="197.60" stroke="#000" stroke-width="0.85"/>
<line x1="294.30" y1="193.80" x2="295.80" y2="193.80" stroke="#000" stroke-width="0.85"/>
<line x1="293.30" y1="190.00" x2="295.80" y2="190.00" stroke="#000" stroke-width="0.85"/>
<line x1="295.80" y1="266.00" x2="295.80" y2="268.50" stroke="#000" stroke-width="0.85"/>
<line x1="299.98" y1="266.00" x2="299.98" y2="267.50" stroke="#000" stroke-width="0.85"/>
<line x1="304.16" y1="266.00" x2="304.16" y2="267.50" stroke="#000" stroke-width="0.85"/>
<line x1="308.34" y1="266.00" x2="308.34" y2="267.50" stroke="#000" stroke-width="0.85"/>
<line x1="312.52" y1="266.00" x2="312.52" y2="267.50" stroke="#000" stroke-width="0.85"/>
<line x1="316.70" y1="266.00" x2="316.70" y2="267.50" stroke="#000" stroke-width="0.85"/>
<line x1="320.88" y1="266.00" x2="320.88" y2="267.50" stroke="#000" stroke-width="0.85"/>
<line x1="325.06" y1="266.00" x2="325.06" y2="267.50" stroke="#000" stroke-width="0.85"/>
<line x1="329.24" y1="266.00" x2="329.24" y2="267.50" stroke="#000" stroke-width="0.85"/>
<line x1="333.42" y1="266.00" x2="333.42" y2="267.50" stroke="#000" stroke-width="0.85"/>
<line x1="337.60" y1="266.00" x2="337.60" y2="268.50" stroke="#000" stroke-width="0.85"/>
<line x1="341.78" y1="266.00" x2="341.78" y2="267.50" stroke="#000" stroke-width="0.85"/>
<line x1="345.96" y1="266.00" x2="345.96" y2="267.50" stroke="#000" stroke-width="0.85"/>
<line x1="350.14" y1="266.00" x2="350.14" y2="267.50" stroke="#000" stroke-width="0.85"/>
<line x1="354.32" y1="266.00" x2="354.32" y2="267.50" stroke="#000" stroke-width="0.85"/>
<line x1="358.50" y1="266.00" x2="358.50" y2="267.50" stroke="#000" stroke-width="0.85"/>
<line x1="362.68" y1="266.00" x2="362.68" y2="267.50" stroke="#000" stroke-width="0.85"/>
<line x1="366.86" y1="266.00" x2="366.86" y2="267.50" stroke="#000" stroke-width="0.85"/>
<line x1="371.04" y1="266.00" x2="371.04" y2="267.50" stroke="#000" stroke-width="0.85"/>
<line x1="375.22" y1="266.00" x2="375.22" y2="267.50" stroke="#000" stroke-width="0.85"/>
<line x1="379.40" y1="266.00" x2="379.40" y2="268.50" stroke="#000" stroke-width="0.85"/>
<line x1="383.58" y1="266.00" x2="383.58" y2="267.50" stroke="#000" stroke-width="0.85"/>
<line x1="387.76" y1="266.00" x2="387.76" y2="267.50" stroke="#000" stroke-width="0.85"/>
<line x1="391.94" y1="266.00" x2="391.94" y2="267.50" stroke="#000" stroke-width="0.85"/>
<line x1="396.12" y1="266.00" x2="396.12" y2="267.50" stroke="#000" stroke-width="0.85"/>
<line x1="400.30" y1="266.00" x2="400.30" y2="267.50" stroke="#000" stroke-width="0.85"/>
<line x1="404.48" y1="266.00" x2="404.48" y2="267.50" stroke="#000" stroke-width="0.85"/>
<line x1="408.66" y1="266.00" x2="408.66" y2="267.50" stroke="#000" stroke-width="0.85"/>
<text x="292.60" y="268.02" font-size="5.6" font-weight="bold" text-anchor="end" fill="#000" stroke="#000" stroke-width="0.15">0</text>
<text x="292.60" y="230.02" font-size="5.6" font-weight="bold" text-anchor="end" fill="#000" stroke="#000" stroke-width="0.15">50</text>
<text x="292.60" y="192.02" font-size="5.6" font-weight="bold" text-anchor="end" fill="#000" stroke="#000" stroke-width="0.15">100</text>
<text x="295.80" y="274.80" font-size="5.6" font-weight="bold" text-anchor="middle" fill="#000" stroke="#000" stroke-width="0.15">52000</text>
<text x="337.60" y="274.80" font-size="5.6" font-weight="bold" text-anchor="middle" fill="#000" stroke="#000" stroke-width="0.15">53000</text>
<text x="379.40" y="274.80" font-size="5.6" font-weight="bold" text-anchor="middle" fill="#000" stroke="#000" stroke-width="0.15">54000</text>
<text x="353.20" y="283.90" font-size="6.3" font-weight="bold" text-anchor="middle" fill="#000" stroke="#000" stroke-width="0.15">Mass (Da)</text>
<text x="279.00" y="227.90" font-size="6.3" font-weight="bold" text-anchor="middle" fill="#000" stroke="#000" stroke-width="0.15" transform="rotate(-90 279.00 227.90)">Relative Intensity</text>
<text x="351.50" y="173.60" font-size="8.1" font-weight="bold" text-anchor="middle"><tspan fill="#000">Sample G013-</tspan><tspan fill="#3EAA1A">G1m1,27</tspan></text>
<text x="320.40" y="188.80" font-size="5.6" font-weight="bold" text-anchor="middle" fill="#000" stroke="#000" stroke-width="0.15">1</text>
<text x="328.70" y="188.80" font-size="5.6" font-weight="bold" text-anchor="middle" fill="#000" stroke="#000" stroke-width="0.15">3</text>
<text x="335.70" y="188.80" font-size="5.6" font-weight="bold" text-anchor="middle" fill="#000" stroke="#000" stroke-width="0.15">4</text>
<text x="342.30" y="188.80" font-size="5.6" font-weight="bold" text-anchor="middle" fill="#000" stroke="#000" stroke-width="0.15">6</text>
<text x="327.40" y="195.80" font-size="5.6" font-weight="bold" text-anchor="middle" fill="#000" stroke="#000" stroke-width="0.15">2</text>
<text x="337.40" y="195.80" font-size="5.6" font-weight="bold" text-anchor="middle" fill="#000" stroke="#000" stroke-width="0.15">5</text>
<line x1="455.10" y1="191.00" x2="455.10" y2="267.00" stroke="#333" stroke-width="0.75" stroke-dasharray="0.9 1.4"/>
<line x1="461.50" y1="198.50" x2="461.50" y2="267.00" stroke="#333" stroke-width="0.75" stroke-dasharray="0.9 1.4"/>
<line x1="463.30" y1="191.00" x2="463.30" y2="267.00" stroke="#333" stroke-width="0.75" stroke-dasharray="0.9 1.4"/>
<line x1="470.80" y1="191.00" x2="470.80" y2="267.00" stroke="#333" stroke-width="0.75" stroke-dasharray="0.9 1.4"/>
<line x1="471.80" y1="198.50" x2="471.80" y2="267.00" stroke="#333" stroke-width="0.75" stroke-dasharray="0.9 1.4"/>
<line x1="477.00" y1="191.00" x2="477.00" y2="267.00" stroke="#333" stroke-width="0.75" stroke-dasharray="0.9 1.4"/>
<line x1="478.30" y1="198.50" x2="478.30" y2="267.00" stroke="#333" stroke-width="0.75" stroke-dasharray="0.9 1.4"/>
<line x1="480.20" y1="191.00" x2="480.20" y2="267.00" stroke="#333" stroke-width="0.75" stroke-dasharray="0.9 1.4"/>
<line x1="482.40" y1="203.00" x2="482.40" y2="267.00" stroke="#333" stroke-width="0.75" stroke-dasharray="0.9 1.4"/>
<line x1="484.10" y1="197.00" x2="484.10" y2="267.00" stroke="#333" stroke-width="0.75" stroke-dasharray="0.9 1.4"/>
<line x1="489.00" y1="191.00" x2="489.00" y2="267.00" stroke="#333" stroke-width="0.75" stroke-dasharray="0.9 1.4"/>
<line x1="491.20" y1="198.50" x2="491.20" y2="267.00" stroke="#333" stroke-width="0.75" stroke-dasharray="0.9 1.4"/>
<line x1="496.30" y1="191.00" x2="496.30" y2="267.00" stroke="#333" stroke-width="0.75" stroke-dasharray="0.9 1.4"/>
<path d="M431.50,257.40 L432.53,255.00 L432.58,253.76 L432.71,249.62 L432.83,251.11 L433.34,256.70 L434.09,251.66 L434.21,247.42 L434.33,248.98 L434.77,259.11 L435.43,254.80 L436.66,263.74 L436.82,257.16 L436.91,253.04 L437.00,255.10 L437.91,262.13 L438.61,255.20 L439.13,248.74 L439.19,242.72 L439.24,243.45 L439.92,254.45 L439.99,250.90 L440.02,251.28 L440.12,253.96 L440.87,258.72 L441.17,258.81 L441.24,256.09 L441.32,254.68 L441.78,253.69 L442.85,262.10 L443.85,258.62 L444.00,256.19 L444.09,254.16 L444.17,254.19 L444.26,242.72 L444.31,237.50 L444.36,238.59 L444.74,254.79 L446.15,260.82 L446.24,252.28 L446.31,249.48 L446.39,252.01 L446.81,257.82 L447.67,237.51 L447.73,231.87 L447.78,234.04 L448.19,262.67 L449.14,256.70 L449.66,256.27 L449.94,254.43 L450.02,252.56 L450.10,254.08 L450.66,251.95 L450.71,246.52 L450.77,248.76 L450.82,252.52 L451.01,255.20 L451.11,252.67 L451.20,252.64 L451.98,261.73 L452.79,253.18 L452.89,249.60 L452.98,250.09 L453.21,253.63 L453.85,254.81 L454.52,249.98 L454.64,247.82 L454.77,247.84 L455.09,249.52 L455.14,247.10 L455.19,233.78 L455.21,227.03 L455.24,223.60 L455.29,225.33 L455.32,230.22 L456.01,250.94 L457.06,252.31 L457.12,249.85 L457.18,250.51 L457.30,250.91 L458.22,256.22 L458.32,251.96 L458.41,254.72 L458.43,255.68 L459.33,259.10 L460.01,250.34 L460.55,255.51 L460.66,253.96 L460.78,255.06 L460.91,242.59 L460.96,234.59 L461.01,239.04 L461.38,251.50 L462.21,255.99 L462.81,249.82 L462.92,253.00 L463.04,250.47 L463.47,206.60 L463.48,204.58 L463.52,190.80 L463.58,195.02 L464.10,250.46 L464.20,249.30 L464.28,245.18 L464.30,251.22 L464.74,230.07 L464.81,217.24 L464.87,223.54 L465.57,245.41 L465.98,237.63 L466.04,205.25 L466.08,190.80 L466.09,190.80 L466.14,194.76 L466.19,209.68 L466.64,246.39 L467.57,251.35 L468.16,228.55 L468.22,217.79 L468.29,222.52 L468.59,254.22 L469.15,249.35 L469.27,243.13 L469.40,252.15 L469.61,252.76 L470.50,253.59 L471.16,204.06 L471.21,190.80 L471.26,193.45 L471.27,195.74 L471.37,231.11 L471.46,249.06 L471.55,245.10 L472.09,249.97 L472.19,244.29 L472.29,245.51 L472.44,218.20 L472.49,203.28 L472.54,207.16 L472.79,254.14 L473.49,241.62 L474.14,236.18 L474.20,231.27 L474.24,231.37 L474.25,232.11 L474.26,231.14 L474.35,240.07 L474.46,246.53 L475.09,238.55 L475.21,242.03 L475.34,243.26 L475.53,249.69 L476.54,240.86 L477.43,251.24 L478.42,215.46 L478.47,202.63 L478.52,209.74 L478.92,243.53 L479.18,250.96 L479.25,242.09 L479.33,244.60 L479.43,253.64 L480.55,221.76 L480.61,211.77 L480.66,216.02 L480.94,255.52 L481.00,252.93 L481.11,244.42 L481.22,247.29 L481.75,248.10 L482.54,245.16 L482.69,236.54 L482.74,227.71 L482.79,230.74 L483.05,252.44 L483.17,246.70 L483.30,254.41 L483.68,246.91 L483.97,240.42 L484.02,231.35 L484.07,234.92 L484.76,251.36 L485.46,256.70 L485.55,247.81 L485.58,253.81 L485.64,254.96 L487.00,251.98 L487.96,248.47 L488.24,245.23 L488.29,239.98 L488.34,239.08 L489.19,254.92 L489.29,257.07 L489.38,252.14 L489.47,255.18 L490.12,255.69 L490.64,252.19 L490.71,247.61 L490.78,248.53 L491.11,250.53 L492.08,250.45 L492.13,247.55 L492.19,247.62 L492.27,254.63 L493.25,261.33 L493.50,254.02 L493.60,248.52 L493.71,251.91 L494.10,255.28 L494.40,250.86 L494.52,249.35 L494.65,249.82 L495.06,257.03 L495.99,257.18 L496.08,255.17 L496.12,256.26 L496.25,257.59 L497.28,253.73 L498.37,261.41 L498.73,251.84 L498.85,247.74 L498.96,247.98 L499.34,257.38 L500.37,261.17 L500.90,257.40 L500.95,257.86 L501.07,254.63 L501.18,254.72 L502.16,257.33 L502.98,263.54 L504.00,252.61 L504.07,250.52 L504.14,250.40 L504.31,261.21 L505.33,264.94 L506.15,259.47 L506.24,255.32 L506.33,257.72 L506.35,256.69 L507.56,259.20 L508.19,263.48 L509.29,257.62 L509.41,254.38 L509.52,256.20 L509.53,253.68 L510.46,257.61 L510.62,256.27 L510.71,253.95 L510.80,256.84 L511.26,263.51 L512.57,257.18 L512.64,256.33 L512.71,259.14 L512.75,258.04 L513.21,265.50 L514.49,259.53 L515.23,252.65 L515.30,247.59 L515.37,251.53 L515.56,256.73 L516.62,264.07 L516.93,255.57 L517.03,253.93 L517.14,254.52 L517.88,264.45 L518.64,262.68 L519.87,260.72 L519.98,254.81 L520.09,251.93 L520.19,253.37 L520.31,255.79 L520.44,252.81 L520.53,253.38 L520.56,252.87 L521.67,260.33 L522.27,253.50 L522.39,249.78 L522.49,251.63 L522.51,249.91 L523.82,258.34 L524.71,254.59 L525.83,259.78 L525.94,256.04 L525.96,257.95 L526.04,257.59 L526.57,261.71 L527.81,262.43 L527.98,256.61 L528.06,252.64 L528.15,254.82 L529.14,257.78 L529.58,253.54 L529.74,257.09 L529.82,253.32 L529.89,255.30 L531.00,251.67 L532.04,258.86 L532.67,255.03 L532.78,253.70 L532.88,253.89 L533.09,256.60 L534.02,260.30 L535.01,252.47 L535.09,256.39 L535.18,258.02 L535.28,255.41 L536.31,252.29 L536.85,250.06 L536.92,246.70 L536.95,248.62 L537.05,250.26 L538.20,259.02 L539.21,251.33 L539.89,255.55 L539.97,251.00 L540.05,252.56 L540.27,253.24 L541.10,250.92 L541.14,255.86 L541.19,256.50 L541.28,258.51 L541.88,256.31 L543.37,255.57 L543.48,257.68 L543.58,252.21 L543.67,251.92 L544.09,256.29 L545.43,255.84 L545.54,254.92 L545.63,251.29" fill="none" stroke="#111" stroke-width="0.7" stroke-linejoin="round"/>
<line x1="431.50" y1="190.40" x2="431.50" y2="267.40" stroke="#000" stroke-width="0.8"/>
<line x1="431.10" y1="267.00" x2="545.70" y2="267.00" stroke="#000" stroke-width="0.8"/>
<line x1="429.00" y1="267.00" x2="431.50" y2="267.00" stroke="#000" stroke-width="0.85"/>
<line x1="430.00" y1="263.19" x2="431.50" y2="263.19" stroke="#000" stroke-width="0.85"/>
<line x1="430.00" y1="259.38" x2="431.50" y2="259.38" stroke="#000" stroke-width="0.85"/>
<line x1="430.00" y1="255.57" x2="431.50" y2="255.57" stroke="#000" stroke-width="0.85"/>
<line x1="430.00" y1="251.76" x2="431.50" y2="251.76" stroke="#000" stroke-width="0.85"/>
<line x1="430.00" y1="247.95" x2="431.50" y2="247.95" stroke="#000" stroke-width="0.85"/>
<line x1="430.00" y1="244.14" x2="431.50" y2="244.14" stroke="#000" stroke-width="0.85"/>
<line x1="430.00" y1="240.33" x2="431.50" y2="240.33" stroke="#000" stroke-width="0.85"/>
<line x1="430.00" y1="236.52" x2="431.50" y2="236.52" stroke="#000" stroke-width="0.85"/>
<line x1="430.00" y1="232.71" x2="431.50" y2="232.71" stroke="#000" stroke-width="0.85"/>
<line x1="429.00" y1="228.90" x2="431.50" y2="228.90" stroke="#000" stroke-width="0.85"/>
<line x1="430.00" y1="225.09" x2="431.50" y2="225.09" stroke="#000" stroke-width="0.85"/>
<line x1="430.00" y1="221.28" x2="431.50" y2="221.28" stroke="#000" stroke-width="0.85"/>
<line x1="430.00" y1="217.47" x2="431.50" y2="217.47" stroke="#000" stroke-width="0.85"/>
<line x1="430.00" y1="213.66" x2="431.50" y2="213.66" stroke="#000" stroke-width="0.85"/>
<line x1="430.00" y1="209.85" x2="431.50" y2="209.85" stroke="#000" stroke-width="0.85"/>
<line x1="430.00" y1="206.04" x2="431.50" y2="206.04" stroke="#000" stroke-width="0.85"/>
<line x1="430.00" y1="202.23" x2="431.50" y2="202.23" stroke="#000" stroke-width="0.85"/>
<line x1="430.00" y1="198.42" x2="431.50" y2="198.42" stroke="#000" stroke-width="0.85"/>
<line x1="430.00" y1="194.61" x2="431.50" y2="194.61" stroke="#000" stroke-width="0.85"/>
<line x1="429.00" y1="190.80" x2="431.50" y2="190.80" stroke="#000" stroke-width="0.85"/>
<line x1="431.50" y1="267.00" x2="431.50" y2="269.50" stroke="#000" stroke-width="0.85"/>
<line x1="435.77" y1="267.00" x2="435.77" y2="268.50" stroke="#000" stroke-width="0.85"/>
<line x1="440.04" y1="267.00" x2="440.04" y2="268.50" stroke="#000" stroke-width="0.85"/>
<line x1="444.31" y1="267.00" x2="444.31" y2="268.50" stroke="#000" stroke-width="0.85"/>
<line x1="448.58" y1="267.00" x2="448.58" y2="268.50" stroke="#000" stroke-width="0.85"/>
<line x1="452.85" y1="267.00" x2="452.85" y2="268.50" stroke="#000" stroke-width="0.85"/>
<line x1="457.12" y1="267.00" x2="457.12" y2="268.50" stroke="#000" stroke-width="0.85"/>
<line x1="461.39" y1="267.00" x2="461.39" y2="268.50" stroke="#000" stroke-width="0.85"/>
<line x1="465.66" y1="267.00" x2="465.66" y2="268.50" stroke="#000" stroke-width="0.85"/>
<line x1="469.93" y1="267.00" x2="469.93" y2="268.50" stroke="#000" stroke-width="0.85"/>
<line x1="474.20" y1="267.00" x2="474.20" y2="269.50" stroke="#000" stroke-width="0.85"/>
<line x1="478.47" y1="267.00" x2="478.47" y2="268.50" stroke="#000" stroke-width="0.85"/>
<line x1="482.74" y1="267.00" x2="482.74" y2="268.50" stroke="#000" stroke-width="0.85"/>
<line x1="487.01" y1="267.00" x2="487.01" y2="268.50" stroke="#000" stroke-width="0.85"/>
<line x1="491.28" y1="267.00" x2="491.28" y2="268.50" stroke="#000" stroke-width="0.85"/>
<line x1="495.55" y1="267.00" x2="495.55" y2="268.50" stroke="#000" stroke-width="0.85"/>
<line x1="499.82" y1="267.00" x2="499.82" y2="268.50" stroke="#000" stroke-width="0.85"/>
<line x1="504.09" y1="267.00" x2="504.09" y2="268.50" stroke="#000" stroke-width="0.85"/>
<line x1="508.36" y1="267.00" x2="508.36" y2="268.50" stroke="#000" stroke-width="0.85"/>
<line x1="512.63" y1="267.00" x2="512.63" y2="268.50" stroke="#000" stroke-width="0.85"/>
<line x1="516.90" y1="267.00" x2="516.90" y2="269.50" stroke="#000" stroke-width="0.85"/>
<line x1="521.17" y1="267.00" x2="521.17" y2="268.50" stroke="#000" stroke-width="0.85"/>
<line x1="525.44" y1="267.00" x2="525.44" y2="268.50" stroke="#000" stroke-width="0.85"/>
<line x1="529.71" y1="267.00" x2="529.71" y2="268.50" stroke="#000" stroke-width="0.85"/>
<line x1="533.98" y1="267.00" x2="533.98" y2="268.50" stroke="#000" stroke-width="0.85"/>
<line x1="538.25" y1="267.00" x2="538.25" y2="268.50" stroke="#000" stroke-width="0.85"/>
<line x1="542.52" y1="267.00" x2="542.52" y2="268.50" stroke="#000" stroke-width="0.85"/>
<text x="428.30" y="269.02" font-size="5.6" font-weight="bold" text-anchor="end" fill="#000" stroke="#000" stroke-width="0.15">0</text>
<text x="428.30" y="230.92" font-size="5.6" font-weight="bold" text-anchor="end" fill="#000" stroke="#000" stroke-width="0.15">50</text>
<text x="428.30" y="192.82" font-size="5.6" font-weight="bold" text-anchor="end" fill="#000" stroke="#000" stroke-width="0.15">100</text>
<text x="431.50" y="275.60" font-size="5.6" font-weight="bold" text-anchor="middle" fill="#000" stroke="#000" stroke-width="0.15">52000</text>
<text x="474.20" y="275.60" font-size="5.6" font-weight="bold" text-anchor="middle" fill="#000" stroke="#000" stroke-width="0.15">53000</text>
<text x="516.90" y="275.60" font-size="5.6" font-weight="bold" text-anchor="middle" fill="#000" stroke="#000" stroke-width="0.15">54000</text>
<text x="488.70" y="285.20" font-size="6.3" font-weight="bold" text-anchor="middle" fill="#000" stroke="#000" stroke-width="0.15">Mass (Da)</text>
<text x="415.30" y="228.30" font-size="6.3" font-weight="bold" text-anchor="middle" fill="#000" stroke="#000" stroke-width="0.15" transform="rotate(-90 415.30 228.30)">Relative Intensity</text>
<text x="489.80" y="173.20" font-size="8.1" font-weight="bold" text-anchor="middle"><tspan fill="#000">Sample G021-</tspan><tspan fill="#F87828">G1m1</tspan></text>
<text x="455.10" y="189.60" font-size="5.7" font-weight="bold" text-anchor="middle" fill="#000">1</text>
<text x="463.30" y="189.60" font-size="5.7" font-weight="bold" text-anchor="middle" fill="#000">3</text>
<text x="470.80" y="189.60" font-size="5.7" font-weight="bold" text-anchor="middle" fill="#000">4</text>
<text x="477.00" y="189.60" font-size="5.7" font-weight="bold" text-anchor="middle" fill="#000">6</text>
<text x="480.20" y="189.60" font-size="5.7" font-weight="bold" text-anchor="middle" fill="#000">8</text>
<text x="489.00" y="189.60" font-size="5.7" font-weight="bold" text-anchor="middle" fill="#000">11</text>
<text x="496.30" y="189.60" font-size="5.7" font-weight="bold" text-anchor="middle" fill="#000">13</text>
<text x="461.50" y="197.10" font-size="5.7" font-weight="bold" text-anchor="middle" fill="#000">2</text>
<text x="471.80" y="197.10" font-size="5.7" font-weight="bold" text-anchor="middle" fill="#000">5</text>
<text x="478.30" y="197.10" font-size="5.7" font-weight="bold" text-anchor="middle" fill="#000">7</text>
<text x="484.10" y="195.60" font-size="5.7" font-weight="bold" text-anchor="middle" fill="#000">10</text>
<text x="491.20" y="197.10" font-size="5.7" font-weight="bold" text-anchor="middle" fill="#000">12</text>
<text x="482.40" y="201.80" font-size="5.7" font-weight="bold" text-anchor="middle" fill="#000">9</text>
<line x1="596.50" y1="191.50" x2="596.50" y2="267.50" stroke="#333" stroke-width="0.75" stroke-dasharray="0.9 1.4"/>
<line x1="603.40" y1="191.50" x2="603.40" y2="267.50" stroke="#333" stroke-width="0.75" stroke-dasharray="0.9 1.4"/>
<line x1="605.60" y1="199.00" x2="605.60" y2="267.50" stroke="#333" stroke-width="0.75" stroke-dasharray="0.9 1.4"/>
<line x1="612.00" y1="191.50" x2="612.00" y2="267.50" stroke="#333" stroke-width="0.75" stroke-dasharray="0.9 1.4"/>
<line x1="613.70" y1="199.00" x2="613.70" y2="267.50" stroke="#333" stroke-width="0.75" stroke-dasharray="0.9 1.4"/>
<line x1="619.10" y1="191.50" x2="619.10" y2="267.50" stroke="#333" stroke-width="0.75" stroke-dasharray="0.9 1.4"/>
<line x1="620.20" y1="199.00" x2="620.20" y2="267.50" stroke="#333" stroke-width="0.75" stroke-dasharray="0.9 1.4"/>
<line x1="622.30" y1="191.50" x2="622.30" y2="267.50" stroke="#333" stroke-width="0.75" stroke-dasharray="0.9 1.4"/>
<line x1="624.50" y1="203.50" x2="624.50" y2="267.50" stroke="#333" stroke-width="0.75" stroke-dasharray="0.9 1.4"/>
<line x1="626.00" y1="197.50" x2="626.00" y2="267.50" stroke="#333" stroke-width="0.75" stroke-dasharray="0.9 1.4"/>
<line x1="631.30" y1="191.50" x2="631.30" y2="267.50" stroke="#333" stroke-width="0.75" stroke-dasharray="0.9 1.4"/>
<line x1="633.00" y1="199.00" x2="633.00" y2="267.50" stroke="#333" stroke-width="0.75" stroke-dasharray="0.9 1.4"/>
<line x1="682.40" y1="191.50" x2="682.40" y2="267.50" stroke="#333" stroke-width="0.75" stroke-dasharray="0.9 1.4"/>
<path d="M571.09,264.02 L571.54,262.94 L572.38,257.21 L572.45,254.84 L572.52,255.11 L572.96,261.65 L573.83,260.00 L574.93,256.90 L575.05,250.45 L575.12,251.59 L575.17,255.10 L575.81,262.78 L575.97,253.69 L576.07,252.05 L576.17,253.20 L577.13,257.99 L577.68,264.05 L578.47,247.12 L578.52,243.40 L578.57,244.27 L579.06,251.06 L579.17,247.31 L579.20,250.40 L579.27,250.37 L579.86,262.22 L580.74,256.19 L581.35,256.68 L581.44,259.98 L581.52,259.57 L581.85,260.43 L583.03,254.24 L583.47,254.30 L583.60,254.31 L583.68,255.02 L583.72,257.64 L584.91,261.67 L585.35,244.96 L585.40,238.11 L585.45,239.79 L585.69,256.68 L586.74,256.98 L586.87,240.97 L586.89,236.47 L586.92,235.98 L586.97,237.92 L587.01,242.67 L587.12,254.40 L587.82,258.42 L588.78,258.62 L588.85,254.19 L588.87,258.61 L588.92,258.80 L589.74,253.70 L589.79,247.70 L589.84,248.58 L589.91,255.83 L590.93,256.93 L591.01,252.64 L591.09,255.00 L591.23,253.45 L592.02,255.76 L593.29,251.87 L593.30,250.33 L593.37,248.29 L593.44,249.75 L594.04,231.50 L594.09,221.08 L594.15,226.23 L594.34,251.53 L595.35,253.77 L596.20,253.07 L596.31,251.49 L596.39,249.98 L596.41,251.91 L596.90,249.71 L596.96,246.95 L597.03,246.64 L597.18,256.17 L598.25,249.59 L598.30,254.43 L598.42,252.60 L598.54,254.97 L599.39,259.93 L600.20,257.18 L600.52,254.14 L600.63,250.01 L600.67,251.63 L600.75,250.58 L600.79,245.78 L600.91,251.57 L600.97,255.20 L601.22,240.24 L601.27,230.44 L601.32,234.18 L602.21,219.51 L602.23,206.85 L602.28,191.20 L602.33,196.80 L603.23,246.11 L603.82,249.40 L603.94,241.97 L604.03,244.02 L604.06,234.16 L604.07,232.35 L604.14,224.36 L604.20,228.01 L604.99,256.06 L605.16,247.34 L605.26,251.32 L605.35,208.63 L605.36,202.57 L605.40,194.15 L605.45,200.06 L606.06,250.05 L607.38,249.73 L607.45,239.70 L607.51,229.17 L607.58,233.36 L607.63,241.41 L607.71,243.41 L607.79,241.79 L608.46,244.59 L609.38,243.94 L609.45,204.07 L609.50,191.20 L609.55,195.86 L610.24,249.93 L610.25,250.02 L610.35,246.38 L610.45,246.79 L611.03,245.01 L611.14,245.52 L611.24,251.34 L611.34,252.29 L612.02,254.23 L612.23,215.32 L612.28,198.76 L612.33,206.15 L612.68,253.72 L612.77,245.01 L612.86,250.36 L613.43,247.05 L613.78,241.70 L613.84,233.12 L613.91,237.78 L614.37,254.66 L615.34,255.05 L615.47,247.62 L615.54,240.98 L615.60,246.36 L616.18,252.72 L616.45,217.58 L616.50,203.04 L616.55,211.09 L617.16,255.98 L617.53,244.32 L617.65,242.74 L617.77,245.20 L618.21,242.21 L619.19,247.35 L619.24,230.66 L619.29,218.37 L619.34,223.90 L620.49,248.46 L620.72,245.21 L620.78,244.75 L620.85,251.46 L621.30,254.31 L621.32,245.89 L621.39,242.49 L621.42,234.57 L621.44,234.32 L621.49,235.28 L621.54,242.16 L622.49,247.34 L623.33,241.21 L623.38,236.45 L623.42,238.43 L623.43,238.37 L623.79,252.49 L623.90,246.37 L624.01,248.46 L624.51,246.90 L625.61,245.60 L625.64,244.81 L625.66,242.58 L625.71,242.93 L626.14,248.43 L626.26,252.04 L626.37,252.26 L626.67,254.75 L627.30,250.30 L628.81,248.79 L629.38,254.87 L629.47,250.82 L629.56,252.75 L629.76,256.22 L629.83,249.86 L629.88,247.90 L629.93,247.67 L630.02,252.59 L630.12,247.43 L630.21,250.91 L630.75,255.62 L631.54,256.99 L632.55,253.61 L632.62,249.10 L632.70,250.70 L632.86,259.28 L633.78,249.43 L634.45,258.85 L634.65,259.07 L634.77,256.79 L634.89,258.09 L635.73,255.84 L636.84,257.34 L637.27,255.31 L637.37,251.34 L637.47,251.32 L637.80,259.98 L638.90,262.35 L639.08,257.96 L639.18,255.57 L639.28,256.80 L639.69,259.38 L640.79,253.58 L640.86,256.73 L640.95,255.50 L641.03,253.82 L641.44,253.98 L642.81,260.05 L643.37,254.27 L643.49,250.23 L643.51,252.31 L643.60,252.70 L644.87,262.15 L645.26,259.25 L645.36,256.77 L645.46,259.24 L645.99,263.55 L646.68,259.91 L647.49,256.98 L647.51,260.08 L647.57,260.48 L647.64,259.03 L648.51,262.22 L649.81,261.82 L650.30,260.20 L650.39,256.86 L650.48,260.15 L650.60,261.86 L651.97,262.27 L652.67,257.66 L652.78,255.46 L652.88,253.85 L652.90,255.10 L653.85,256.53 L654.35,251.45 L654.42,249.06 L654.48,251.24 L654.97,265.33 L655.66,258.92 L656.53,253.23 L656.64,251.16 L656.74,252.91 L656.86,252.26 L657.63,257.92 L658.94,254.99 L659.32,254.51 L659.39,252.17 L659.47,252.14 L660.10,255.42 L660.60,254.88 L660.69,249.54 L660.73,249.30 L660.78,251.10 L662.07,254.27 L663.27,255.20 L663.50,253.61 L663.60,251.35 L663.71,252.87 L663.87,258.35 L664.81,257.35 L665.85,255.29 L666.74,258.54 L666.86,254.73 L666.99,255.75 L667.22,255.14 L667.33,254.08 L667.42,248.30 L667.52,249.59 L667.77,254.37 L669.21,254.42 L669.66,254.47 L669.79,255.97 L669.91,257.31 L669.91,254.74 L671.22,251.79 L672.32,260.48 L673.30,253.88 L673.51,259.32 L673.60,252.28 L673.70,253.10 L673.92,251.26 L674.82,254.90 L674.90,252.02 L674.98,253.15 L675.15,257.56 L676.02,252.39 L677.37,250.52 L677.67,257.01 L677.73,255.65 L677.80,256.94 L678.03,251.07 L678.97,251.59 L679.29,247.13 L679.35,252.35 L679.42,255.27 L680.13,259.07 L680.80,258.30 L680.87,255.89 L680.94,257.05 L680.95,255.64 L682.04,252.38 L682.34,249.76 L682.42,244.51 L682.49,246.90 L683.34,255.94 L683.64,254.85 L683.73,248.52 L683.82,250.65 L684.13,251.26" fill="none" stroke="#111" stroke-width="0.7" stroke-linejoin="round"/>
<line x1="570.80" y1="190.80" x2="570.80" y2="267.90" stroke="#000" stroke-width="0.8"/>
<line x1="570.40" y1="267.50" x2="685.00" y2="267.50" stroke="#000" stroke-width="0.8"/>
<line x1="568.30" y1="267.50" x2="570.80" y2="267.50" stroke="#000" stroke-width="0.85"/>
<line x1="569.30" y1="263.69" x2="570.80" y2="263.69" stroke="#000" stroke-width="0.85"/>
<line x1="569.30" y1="259.87" x2="570.80" y2="259.87" stroke="#000" stroke-width="0.85"/>
<line x1="569.30" y1="256.06" x2="570.80" y2="256.06" stroke="#000" stroke-width="0.85"/>
<line x1="569.30" y1="252.24" x2="570.80" y2="252.24" stroke="#000" stroke-width="0.85"/>
<line x1="569.30" y1="248.43" x2="570.80" y2="248.43" stroke="#000" stroke-width="0.85"/>
<line x1="569.30" y1="244.61" x2="570.80" y2="244.61" stroke="#000" stroke-width="0.85"/>
<line x1="569.30" y1="240.79" x2="570.80" y2="240.79" stroke="#000" stroke-width="0.85"/>
<line x1="569.30" y1="236.98" x2="570.80" y2="236.98" stroke="#000" stroke-width="0.85"/>
<line x1="569.30" y1="233.16" x2="570.80" y2="233.16" stroke="#000" stroke-width="0.85"/>
<line x1="568.30" y1="229.35" x2="570.80" y2="229.35" stroke="#000" stroke-width="0.85"/>
<line x1="569.30" y1="225.53" x2="570.80" y2="225.53" stroke="#000" stroke-width="0.85"/>
<line x1="569.30" y1="221.72" x2="570.80" y2="221.72" stroke="#000" stroke-width="0.85"/>
<line x1="569.30" y1="217.91" x2="570.80" y2="217.91" stroke="#000" stroke-width="0.85"/>
<line x1="569.30" y1="214.09" x2="570.80" y2="214.09" stroke="#000" stroke-width="0.85"/>
<line x1="569.30" y1="210.27" x2="570.80" y2="210.27" stroke="#000" stroke-width="0.85"/>
<line x1="569.30" y1="206.46" x2="570.80" y2="206.46" stroke="#000" stroke-width="0.85"/>
<line x1="569.30" y1="202.64" x2="570.80" y2="202.64" stroke="#000" stroke-width="0.85"/>
<line x1="569.30" y1="198.83" x2="570.80" y2="198.83" stroke="#000" stroke-width="0.85"/>
<line x1="569.30" y1="195.01" x2="570.80" y2="195.01" stroke="#000" stroke-width="0.85"/>
<line x1="568.30" y1="191.20" x2="570.80" y2="191.20" stroke="#000" stroke-width="0.85"/>
<line x1="570.80" y1="267.50" x2="570.80" y2="270.00" stroke="#000" stroke-width="0.85"/>
<line x1="575.02" y1="267.50" x2="575.02" y2="269.00" stroke="#000" stroke-width="0.85"/>
<line x1="579.24" y1="267.50" x2="579.24" y2="269.00" stroke="#000" stroke-width="0.85"/>
<line x1="583.46" y1="267.50" x2="583.46" y2="269.00" stroke="#000" stroke-width="0.85"/>
<line x1="587.68" y1="267.50" x2="587.68" y2="269.00" stroke="#000" stroke-width="0.85"/>
<line x1="591.90" y1="267.50" x2="591.90" y2="269.00" stroke="#000" stroke-width="0.85"/>
<line x1="596.12" y1="267.50" x2="596.12" y2="269.00" stroke="#000" stroke-width="0.85"/>
<line x1="600.34" y1="267.50" x2="600.34" y2="269.00" stroke="#000" stroke-width="0.85"/>
<line x1="604.56" y1="267.50" x2="604.56" y2="269.00" stroke="#000" stroke-width="0.85"/>
<line x1="608.78" y1="267.50" x2="608.78" y2="269.00" stroke="#000" stroke-width="0.85"/>
<line x1="613.00" y1="267.50" x2="613.00" y2="270.00" stroke="#000" stroke-width="0.85"/>
<line x1="617.22" y1="267.50" x2="617.22" y2="269.00" stroke="#000" stroke-width="0.85"/>
<line x1="621.44" y1="267.50" x2="621.44" y2="269.00" stroke="#000" stroke-width="0.85"/>
<line x1="625.66" y1="267.50" x2="625.66" y2="269.00" stroke="#000" stroke-width="0.85"/>
<line x1="629.88" y1="267.50" x2="629.88" y2="269.00" stroke="#000" stroke-width="0.85"/>
<line x1="634.10" y1="267.50" x2="634.10" y2="269.00" stroke="#000" stroke-width="0.85"/>
<line x1="638.32" y1="267.50" x2="638.32" y2="269.00" stroke="#000" stroke-width="0.85"/>
<line x1="642.54" y1="267.50" x2="642.54" y2="269.00" stroke="#000" stroke-width="0.85"/>
<line x1="646.76" y1="267.50" x2="646.76" y2="269.00" stroke="#000" stroke-width="0.85"/>
<line x1="650.98" y1="267.50" x2="650.98" y2="269.00" stroke="#000" stroke-width="0.85"/>
<line x1="655.20" y1="267.50" x2="655.20" y2="270.00" stroke="#000" stroke-width="0.85"/>
<line x1="659.42" y1="267.50" x2="659.42" y2="269.00" stroke="#000" stroke-width="0.85"/>
<line x1="663.64" y1="267.50" x2="663.64" y2="269.00" stroke="#000" stroke-width="0.85"/>
<line x1="667.86" y1="267.50" x2="667.86" y2="269.00" stroke="#000" stroke-width="0.85"/>
<line x1="672.08" y1="267.50" x2="672.08" y2="269.00" stroke="#000" stroke-width="0.85"/>
<line x1="676.30" y1="267.50" x2="676.30" y2="269.00" stroke="#000" stroke-width="0.85"/>
<line x1="680.52" y1="267.50" x2="680.52" y2="269.00" stroke="#000" stroke-width="0.85"/>
<line x1="684.74" y1="267.50" x2="684.74" y2="269.00" stroke="#000" stroke-width="0.85"/>
<text x="567.60" y="269.52" font-size="5.6" font-weight="bold" text-anchor="end" fill="#000" stroke="#000" stroke-width="0.15">0</text>
<text x="567.60" y="231.37" font-size="5.6" font-weight="bold" text-anchor="end" fill="#000" stroke="#000" stroke-width="0.15">50</text>
<text x="567.60" y="193.22" font-size="5.6" font-weight="bold" text-anchor="end" fill="#000" stroke="#000" stroke-width="0.15">100</text>
<text x="570.80" y="276.20" font-size="5.6" font-weight="bold" text-anchor="middle" fill="#000" stroke="#000" stroke-width="0.15">52000</text>
<text x="613.00" y="276.20" font-size="5.6" font-weight="bold" text-anchor="middle" fill="#000" stroke="#000" stroke-width="0.15">53000</text>
<text x="655.20" y="276.20" font-size="5.6" font-weight="bold" text-anchor="middle" fill="#000" stroke="#000" stroke-width="0.15">54000</text>
<text x="628.00" y="286.30" font-size="6.3" font-weight="bold" text-anchor="middle" fill="#000" stroke="#000" stroke-width="0.15">Mass (Da)</text>
<text x="555.00" y="229.00" font-size="6.3" font-weight="bold" text-anchor="middle" fill="#000" stroke="#000" stroke-width="0.15" transform="rotate(-90 555.00 229.00)">Relative Intensity</text>
<text x="633.20" y="173.20" font-size="8.1" font-weight="bold" text-anchor="middle"><tspan fill="#000">Sample G021-</tspan><tspan fill="#2A5AAA">nG1m1</tspan></text>
<text x="596.50" y="190.00" font-size="5.7" font-weight="bold" text-anchor="middle" fill="#000">1</text>
<text x="603.40" y="190.00" font-size="5.7" font-weight="bold" text-anchor="middle" fill="#000">2</text>
<text x="612.00" y="190.00" font-size="5.7" font-weight="bold" text-anchor="middle" fill="#000">4</text>
<text x="619.10" y="190.00" font-size="5.7" font-weight="bold" text-anchor="middle" fill="#000">6</text>
<text x="622.30" y="190.00" font-size="5.7" font-weight="bold" text-anchor="middle" fill="#000">8</text>
<text x="631.30" y="190.00" font-size="5.7" font-weight="bold" text-anchor="middle" fill="#000">11</text>
<text x="682.40" y="190.00" font-size="5.7" font-weight="bold" text-anchor="middle" fill="#000">20</text>
<text x="605.60" y="197.50" font-size="5.7" font-weight="bold" text-anchor="middle" fill="#000">3</text>
<text x="613.70" y="197.50" font-size="5.7" font-weight="bold" text-anchor="middle" fill="#000">5</text>
<text x="620.20" y="197.50" font-size="5.7" font-weight="bold" text-anchor="middle" fill="#000">7</text>
<text x="626.00" y="196.00" font-size="5.7" font-weight="bold" text-anchor="middle" fill="#000">10</text>
<text x="633.00" y="197.50" font-size="5.7" font-weight="bold" text-anchor="middle" fill="#000">12</text>
<text x="624.50" y="202.20" font-size="5.7" font-weight="bold" text-anchor="middle" fill="#000">9</text>
<line x1="111.60" y1="331.90" x2="111.60" y2="435.10" stroke="#000" stroke-width="1.0"/>
<line x1="111.10" y1="434.60" x2="179.50" y2="434.60" stroke="#000" stroke-width="1.0"/>
<line x1="106.90" y1="434.60" x2="111.60" y2="434.60" stroke="#000" stroke-width="1.0"/>
<text x="106.20" y="437.20" font-size="7.3" font-weight="bold" text-anchor="end" fill="#000">0</text>
<line x1="106.90" y1="414.16" x2="111.60" y2="414.16" stroke="#000" stroke-width="1.0"/>
<text x="106.20" y="416.76" font-size="7.3" font-weight="bold" text-anchor="end" fill="#000">20</text>
<line x1="106.90" y1="393.72" x2="111.60" y2="393.72" stroke="#000" stroke-width="1.0"/>
<text x="106.20" y="396.32" font-size="7.3" font-weight="bold" text-anchor="end" fill="#000">40</text>
<line x1="106.90" y1="373.28" x2="111.60" y2="373.28" stroke="#000" stroke-width="1.0"/>
<text x="106.20" y="375.88" font-size="7.3" font-weight="bold" text-anchor="end" fill="#000">60</text>
<line x1="106.90" y1="352.84" x2="111.60" y2="352.84" stroke="#000" stroke-width="1.0"/>
<text x="106.20" y="355.44" font-size="7.3" font-weight="bold" text-anchor="end" fill="#000">80</text>
<line x1="106.90" y1="332.40" x2="111.60" y2="332.40" stroke="#000" stroke-width="1.0"/>
<text x="106.20" y="335.00" font-size="7.3" font-weight="bold" text-anchor="end" fill="#000">100</text>
<line x1="130.60" y1="434.60" x2="130.60" y2="438.90" stroke="#000" stroke-width="1.0"/>
<line x1="159.80" y1="434.60" x2="159.80" y2="438.90" stroke="#000" stroke-width="1.0"/>
<text x="130.60" y="446.10" font-size="7.3" font-weight="bold" text-anchor="middle" fill="#000">Healthy</text>
<text x="159.80" y="446.10" font-size="7.3" font-weight="bold" text-anchor="middle" fill="#000">COVID</text>
<text x="88.40" y="383.50" font-size="8.4" font-weight="bold" text-anchor="middle" fill="#000" transform="rotate(-90 88.40 383.50)">Relative Percentage (%)</text>
<text x="163.50" y="320.90" font-size="8.1" font-weight="bold" text-anchor="middle" fill="#000">Symmetric Glycosylation</text>
<circle cx="130.70" cy="391.40" r="1.65" fill="#000"/>
<circle cx="130.70" cy="399.10" r="1.65" fill="#000"/>
<circle cx="124.60" cy="403.40" r="1.65" fill="#000"/>
<circle cx="130.70" cy="402.90" r="1.65" fill="#000"/>
<circle cx="136.90" cy="405.10" r="1.65" fill="#000"/>
<circle cx="124.60" cy="407.30" r="1.65" fill="#000"/>
<circle cx="130.70" cy="406.80" r="1.65" fill="#000"/>
<circle cx="130.70" cy="409.50" r="1.65" fill="#000"/>
<circle cx="136.90" cy="409.30" r="1.65" fill="#000"/>
<circle cx="127.70" cy="415.30" r="1.65" fill="#000"/>
<circle cx="133.80" cy="415.30" r="1.65" fill="#000"/>
<circle cx="130.70" cy="419.70" r="1.65" fill="#000"/>
<circle cx="157.80" cy="394.40" r="1.65" fill="#FF0A6A"/>
<circle cx="161.90" cy="397.50" r="1.65" fill="#FF0A6A"/>
<circle cx="157.80" cy="399.30" r="1.65" fill="#FF0A6A"/>
<circle cx="160.10" cy="399.30" r="1.65" fill="#FF0A6A"/>
<circle cx="157.80" cy="404.90" r="1.65" fill="#FF0A6A"/>
<circle cx="166.00" cy="405.90" r="1.65" fill="#FF0A6A"/>
<circle cx="155.50" cy="406.50" r="1.65" fill="#FF0A6A"/>
<circle cx="151.20" cy="409.50" r="1.65" fill="#FF0A6A"/>
<circle cx="154.50" cy="409.50" r="1.65" fill="#FF0A6A"/>
<circle cx="157.50" cy="410.00" r="1.65" fill="#FF0A6A"/>
<circle cx="161.50" cy="409.00" r="1.65" fill="#FF0A6A"/>
<circle cx="167.50" cy="409.50" r="1.65" fill="#FF0A6A"/>
<circle cx="153.50" cy="411.50" r="1.65" fill="#FF0A6A"/>
<circle cx="160.00" cy="411.50" r="1.65" fill="#FF0A6A"/>
<circle cx="163.50" cy="412.00" r="1.65" fill="#FF0A6A"/>
<circle cx="155.50" cy="413.60" r="1.65" fill="#FF0A6A"/>
<circle cx="163.50" cy="414.60" r="1.65" fill="#FF0A6A"/>
<circle cx="150.50" cy="408.50" r="1.65" fill="#FF0A6A"/>
<circle cx="169.00" cy="408.00" r="1.65" fill="#FF0A6A"/>
<circle cx="158.50" cy="407.50" r="1.65" fill="#FF0A6A"/>
<circle cx="164.20" cy="407.50" r="1.65" fill="#FF0A6A"/>
<line x1="121.00" y1="407.10" x2="140.90" y2="407.10" stroke="#000" stroke-width="0.9"/>
<line x1="150.20" y1="407.30" x2="169.80" y2="407.30" stroke="#FF0A6A" stroke-width="0.9"/>
<line x1="324.20" y1="332.70" x2="324.20" y2="435.10" stroke="#000" stroke-width="1.0"/>
<line x1="323.70" y1="434.60" x2="392.50" y2="434.60" stroke="#000" stroke-width="1.0"/>
<line x1="319.50" y1="434.60" x2="324.20" y2="434.60" stroke="#000" stroke-width="1.0"/>
<text x="318.80" y="437.20" font-size="7.3" font-weight="bold" text-anchor="end" fill="#000">0</text>
<line x1="319.50" y1="414.32" x2="324.20" y2="414.32" stroke="#000" stroke-width="1.0"/>
<text x="318.80" y="416.92" font-size="7.3" font-weight="bold" text-anchor="end" fill="#000">20</text>
<line x1="319.50" y1="394.04" x2="324.20" y2="394.04" stroke="#000" stroke-width="1.0"/>
<text x="318.80" y="396.64" font-size="7.3" font-weight="bold" text-anchor="end" fill="#000">40</text>
<line x1="319.50" y1="373.76" x2="324.20" y2="373.76" stroke="#000" stroke-width="1.0"/>
<text x="318.80" y="376.36" font-size="7.3" font-weight="bold" text-anchor="end" fill="#000">60</text>
<line x1="319.50" y1="353.48" x2="324.20" y2="353.48" stroke="#000" stroke-width="1.0"/>
<text x="318.80" y="356.08" font-size="7.3" font-weight="bold" text-anchor="end" fill="#000">80</text>
<line x1="319.50" y1="333.20" x2="324.20" y2="333.20" stroke="#000" stroke-width="1.0"/>
<text x="318.80" y="335.80" font-size="7.3" font-weight="bold" text-anchor="end" fill="#000">100</text>
<line x1="343.40" y1="434.60" x2="343.40" y2="438.90" stroke="#000" stroke-width="1.0"/>
<line x1="372.90" y1="434.60" x2="372.90" y2="438.90" stroke="#000" stroke-width="1.0"/>
<text x="343.40" y="446.10" font-size="7.3" font-weight="bold" text-anchor="middle" fill="#000">Healthy</text>
<text x="372.90" y="446.10" font-size="7.3" font-weight="bold" text-anchor="middle" fill="#000">COVID</text>
<text x="301.20" y="383.90" font-size="8.4" font-weight="bold" text-anchor="middle" fill="#000" transform="rotate(-90 301.20 383.90)">Relative Percentage (%)</text>
<text x="358.60" y="320.90" font-size="8.1" font-weight="bold" text-anchor="middle" fill="#000">Asymmetric Glycosylation</text>
<circle cx="343.40" cy="364.40" r="1.65" fill="#000"/>
<circle cx="335.20" cy="372.40" r="1.65" fill="#000"/>
<circle cx="338.60" cy="371.10" r="1.65" fill="#000"/>
<circle cx="341.90" cy="371.10" r="1.65" fill="#000"/>
<circle cx="345.20" cy="371.10" r="1.65" fill="#000"/>
<circle cx="348.50" cy="369.30" r="1.65" fill="#000"/>
<circle cx="351.80" cy="371.70" r="1.65" fill="#000"/>
<circle cx="341.90" cy="374.20" r="1.65" fill="#000"/>
<circle cx="345.20" cy="376.70" r="1.65" fill="#000"/>
<circle cx="341.90" cy="378.50" r="1.65" fill="#000"/>
<circle cx="345.20" cy="382.40" r="1.65" fill="#000"/>
<circle cx="341.90" cy="384.90" r="1.65" fill="#000"/>
<circle cx="367.10" cy="367.30" r="1.65" fill="#FF0A6A"/>
<circle cx="369.80" cy="368.30" r="1.65" fill="#FF0A6A"/>
<circle cx="377.90" cy="366.00" r="1.65" fill="#FF0A6A"/>
<circle cx="380.70" cy="368.30" r="1.65" fill="#FF0A6A"/>
<circle cx="364.30" cy="369.80" r="1.65" fill="#FF0A6A"/>
<circle cx="372.50" cy="369.80" r="1.65" fill="#FF0A6A"/>
<circle cx="377.90" cy="370.30" r="1.65" fill="#FF0A6A"/>
<circle cx="366.90" cy="371.90" r="1.65" fill="#FF0A6A"/>
<circle cx="370.00" cy="371.60" r="1.65" fill="#FF0A6A"/>
<circle cx="364.30" cy="373.50" r="1.65" fill="#FF0A6A"/>
<circle cx="366.90" cy="374.60" r="1.65" fill="#FF0A6A"/>
<circle cx="370.00" cy="373.80" r="1.65" fill="#FF0A6A"/>
<circle cx="372.50" cy="373.20" r="1.65" fill="#FF0A6A"/>
<circle cx="375.10" cy="374.80" r="1.65" fill="#FF0A6A"/>
<circle cx="377.90" cy="374.00" r="1.65" fill="#FF0A6A"/>
<circle cx="380.70" cy="373.20" r="1.65" fill="#FF0A6A"/>
<circle cx="370.00" cy="380.50" r="1.65" fill="#FF0A6A"/>
<circle cx="375.10" cy="382.10" r="1.65" fill="#FF0A6A"/>
<circle cx="372.50" cy="383.60" r="1.65" fill="#FF0A6A"/>
<circle cx="372.50" cy="387.70" r="1.65" fill="#FF0A6A"/>
<line x1="334.00" y1="374.20" x2="353.40" y2="374.20" stroke="#000" stroke-width="0.9"/>
<line x1="363.50" y1="373.00" x2="382.50" y2="373.00" stroke="#FF0A6A" stroke-width="0.9"/>
<line x1="535.20" y1="332.30" x2="535.20" y2="434.80" stroke="#000" stroke-width="1.0"/>
<line x1="534.70" y1="434.30" x2="601.90" y2="434.30" stroke="#000" stroke-width="1.0"/>
<line x1="530.50" y1="434.30" x2="535.20" y2="434.30" stroke="#000" stroke-width="1.0"/>
<text x="529.80" y="436.90" font-size="7.3" font-weight="bold" text-anchor="end" fill="#000">0</text>
<line x1="530.50" y1="414.00" x2="535.20" y2="414.00" stroke="#000" stroke-width="1.0"/>
<text x="529.80" y="416.60" font-size="7.3" font-weight="bold" text-anchor="end" fill="#000">20</text>
<line x1="530.50" y1="393.70" x2="535.20" y2="393.70" stroke="#000" stroke-width="1.0"/>
<text x="529.80" y="396.30" font-size="7.3" font-weight="bold" text-anchor="end" fill="#000">40</text>
<line x1="530.50" y1="373.40" x2="535.20" y2="373.40" stroke="#000" stroke-width="1.0"/>
<text x="529.80" y="376.00" font-size="7.3" font-weight="bold" text-anchor="end" fill="#000">60</text>
<line x1="530.50" y1="353.10" x2="535.20" y2="353.10" stroke="#000" stroke-width="1.0"/>
<text x="529.80" y="355.70" font-size="7.3" font-weight="bold" text-anchor="end" fill="#000">80</text>
<line x1="530.50" y1="332.80" x2="535.20" y2="332.80" stroke="#000" stroke-width="1.0"/>
<text x="529.80" y="335.40" font-size="7.3" font-weight="bold" text-anchor="end" fill="#000">100</text>
<line x1="554.00" y1="434.30" x2="554.00" y2="438.60" stroke="#000" stroke-width="1.0"/>
<line x1="583.50" y1="434.30" x2="583.50" y2="438.60" stroke="#000" stroke-width="1.0"/>
<text x="554.00" y="445.80" font-size="7.3" font-weight="bold" text-anchor="middle" fill="#000">Healthy</text>
<text x="583.50" y="445.80" font-size="7.3" font-weight="bold" text-anchor="middle" fill="#000">COVID</text>
<text x="512.10" y="383.55" font-size="8.4" font-weight="bold" text-anchor="middle" fill="#000" transform="rotate(-90 512.10 383.55)">Relative Percentage (%)</text>
<text x="572.70" y="319.20" font-size="8.1" font-weight="bold" text-anchor="middle" fill="#000">Ambiguous Glycosylation</text>
<circle cx="557.00" cy="414.70" r="1.65" fill="#000"/>
<circle cx="549.10" cy="417.30" r="1.65" fill="#000"/>
<circle cx="562.40" cy="416.80" r="1.65" fill="#000"/>
<circle cx="546.00" cy="420.10" r="1.65" fill="#000"/>
<circle cx="551.40" cy="420.30" r="1.65" fill="#000"/>
<circle cx="554.40" cy="421.10" r="1.65" fill="#000"/>
<circle cx="557.00" cy="420.80" r="1.65" fill="#000"/>
<circle cx="559.50" cy="421.30" r="1.65" fill="#000"/>
<circle cx="562.40" cy="420.50" r="1.65" fill="#000"/>
<circle cx="548.80" cy="422.40" r="1.65" fill="#000"/>
<circle cx="557.00" cy="423.90" r="1.65" fill="#000"/>
<circle cx="551.60" cy="425.20" r="1.65" fill="#000"/>
<circle cx="574.80" cy="419.50" r="1.65" fill="#FF0A6A"/>
<circle cx="577.00" cy="417.80" r="1.65" fill="#FF0A6A"/>
<circle cx="579.50" cy="420.50" r="1.65" fill="#FF0A6A"/>
<circle cx="581.80" cy="418.00" r="1.65" fill="#FF0A6A"/>
<circle cx="584.00" cy="416.60" r="1.65" fill="#FF0A6A"/>
<circle cx="586.50" cy="419.00" r="1.65" fill="#FF0A6A"/>
<circle cx="589.00" cy="417.50" r="1.65" fill="#FF0A6A"/>
<circle cx="591.50" cy="419.80" r="1.65" fill="#FF0A6A"/>
<circle cx="575.50" cy="421.80" r="1.65" fill="#FF0A6A"/>
<circle cx="578.20" cy="422.60" r="1.65" fill="#FF0A6A"/>
<circle cx="580.80" cy="421.20" r="1.65" fill="#FF0A6A"/>
<circle cx="583.30" cy="421.90" r="1.65" fill="#FF0A6A"/>
<circle cx="585.80" cy="422.90" r="1.65" fill="#FF0A6A"/>
<circle cx="588.40" cy="421.50" r="1.65" fill="#FF0A6A"/>
<circle cx="591.00" cy="422.50" r="1.65" fill="#FF0A6A"/>
<circle cx="583.00" cy="419.30" r="1.65" fill="#FF0A6A"/>
<circle cx="587.80" cy="416.90" r="1.65" fill="#FF0A6A"/>
<circle cx="576.80" cy="423.20" r="1.65" fill="#FF0A6A"/>
<circle cx="589.80" cy="423.50" r="1.65" fill="#FF0A6A"/>
<circle cx="581.00" cy="423.80" r="1.65" fill="#FF0A6A"/>
<line x1="545.20" y1="420.80" x2="563.60" y2="420.80" stroke="#000" stroke-width="0.9"/>
<line x1="573.50" y1="419.80" x2="593.00" y2="419.80" stroke="#FF0A6A" stroke-width="0.9"/>
<line x1="64.40" y1="522.90" x2="64.40" y2="625.50" stroke="#000" stroke-width="1.0"/>
<line x1="63.90" y1="625.00" x2="132.00" y2="625.00" stroke="#000" stroke-width="1.0"/>
<line x1="59.70" y1="625.00" x2="64.40" y2="625.00" stroke="#000" stroke-width="1.0"/>
<text x="59.00" y="627.60" font-size="7.3" font-weight="bold" text-anchor="end" fill="#000">0</text>
<line x1="59.70" y1="604.68" x2="64.40" y2="604.68" stroke="#000" stroke-width="1.0"/>
<text x="59.00" y="607.28" font-size="7.3" font-weight="bold" text-anchor="end" fill="#000">20</text>
<line x1="59.70" y1="584.36" x2="64.40" y2="584.36" stroke="#000" stroke-width="1.0"/>
<text x="59.00" y="586.96" font-size="7.3" font-weight="bold" text-anchor="end" fill="#000">40</text>
<line x1="59.70" y1="564.04" x2="64.40" y2="564.04" stroke="#000" stroke-width="1.0"/>
<text x="59.00" y="566.64" font-size="7.3" font-weight="bold" text-anchor="end" fill="#000">60</text>
<line x1="59.70" y1="543.72" x2="64.40" y2="543.72" stroke="#000" stroke-width="1.0"/>
<text x="59.00" y="546.32" font-size="7.3" font-weight="bold" text-anchor="end" fill="#000">80</text>
<line x1="59.70" y1="523.40" x2="64.40" y2="523.40" stroke="#000" stroke-width="1.0"/>
<text x="59.00" y="526.00" font-size="7.3" font-weight="bold" text-anchor="end" fill="#000">100</text>
<line x1="78.00" y1="625.00" x2="78.00" y2="629.30" stroke="#000" stroke-width="1.0"/>
<line x1="98.30" y1="625.00" x2="98.30" y2="629.30" stroke="#000" stroke-width="1.0"/>
<line x1="118.30" y1="625.00" x2="118.30" y2="629.30" stroke="#000" stroke-width="1.0"/>
<text x="80.40" y="635.00" font-size="7.6" font-weight="bold" text-anchor="end" fill="#000" transform="rotate(-45 80.40 635.00)">CD40L</text>
<text x="100.70" y="635.00" font-size="7.6" font-weight="bold" text-anchor="end" fill="#000" transform="rotate(-45 100.70 635.00)">R848</text>
<text x="120.70" y="635.00" font-size="7.6" font-weight="bold" text-anchor="end" fill="#000" transform="rotate(-45 120.70 635.00)">CpG</text>
<text x="41.20" y="574.20" font-size="8.4" font-weight="bold" text-anchor="middle" fill="#000" transform="rotate(-90 41.20 574.20)">Relative Percentage (%)</text>
<text x="103.90" y="491.20" font-size="8.1" font-weight="bold" text-anchor="middle" fill="#000">Galactosylation</text>
<circle cx="72.30" cy="523.30" r="1.65" fill="#000"/>
<circle cx="74.80" cy="523.00" r="1.65" fill="#000"/>
<circle cx="77.30" cy="523.50" r="1.65" fill="#000"/>
<circle cx="79.80" cy="523.00" r="1.65" fill="#000"/>
<circle cx="82.30" cy="523.30" r="1.65" fill="#000"/>
<circle cx="84.20" cy="523.50" r="1.65" fill="#000"/>
<circle cx="77.60" cy="525.50" r="1.65" fill="#000"/>
<circle cx="79.80" cy="529.00" r="1.65" fill="#000"/>
<circle cx="75.90" cy="532.00" r="1.65" fill="#000"/>
<circle cx="78.00" cy="531.60" r="1.65" fill="#000"/>
<circle cx="79.80" cy="532.50" r="1.65" fill="#000"/>
<circle cx="100.80" cy="526.80" r="1.65" fill="#FF0A6A"/>
<circle cx="98.20" cy="529.90" r="1.65" fill="#FF0A6A"/>
<circle cx="94.30" cy="533.40" r="1.65" fill="#FF0A6A"/>
<circle cx="96.00" cy="534.70" r="1.65" fill="#FF0A6A"/>
<circle cx="97.80" cy="533.80" r="1.65" fill="#FF0A6A"/>
<circle cx="99.60" cy="535.10" r="1.65" fill="#FF0A6A"/>
<circle cx="101.70" cy="534.20" r="1.65" fill="#FF0A6A"/>
<circle cx="103.50" cy="533.40" r="1.65" fill="#FF0A6A"/>
<circle cx="92.50" cy="534.70" r="1.65" fill="#FF0A6A"/>
<circle cx="94.30" cy="536.00" r="1.65" fill="#FF0A6A"/>
<circle cx="98.60" cy="536.00" r="1.65" fill="#FF0A6A"/>
<circle cx="103.00" cy="536.00" r="1.65" fill="#FF0A6A"/>
<circle cx="96.00" cy="537.80" r="1.65" fill="#FF0A6A"/>
<circle cx="100.80" cy="538.60" r="1.65" fill="#FF0A6A"/>
<circle cx="95.10" cy="540.40" r="1.65" fill="#FF0A6A"/>
<circle cx="118.30" cy="526.40" r="1.65" fill="#007A7A"/>
<circle cx="113.10" cy="530.80" r="1.65" fill="#007A7A"/>
<circle cx="116.20" cy="531.20" r="1.65" fill="#007A7A"/>
<circle cx="120.50" cy="530.80" r="1.65" fill="#007A7A"/>
<circle cx="123.60" cy="530.80" r="1.65" fill="#007A7A"/>
<circle cx="115.70" cy="533.00" r="1.65" fill="#007A7A"/>
<circle cx="118.30" cy="532.50" r="1.65" fill="#007A7A"/>
<circle cx="121.00" cy="533.80" r="1.65" fill="#007A7A"/>
<circle cx="117.00" cy="535.00" r="1.65" fill="#007A7A"/>
<circle cx="119.70" cy="535.80" r="1.65" fill="#007A7A"/>
<circle cx="115.70" cy="537.30" r="1.65" fill="#007A7A"/>
<line x1="71.00" y1="523.40" x2="85.00" y2="523.40" stroke="#000" stroke-width="0.9"/>
<line x1="91.50" y1="535.30" x2="104.50" y2="535.30" stroke="#FF0A6A" stroke-width="0.9"/>
<line x1="111.50" y1="532.30" x2="124.50" y2="532.30" stroke="#007A7A" stroke-width="0.9"/>
<polyline points="77.80,517.20 77.80,511.70 118.40,511.70 118.40,520.50" fill="none" stroke="#000" stroke-width="0.9"/>
<text x="98.10" y="506.70" font-size="6.7" font-weight="normal" text-anchor="middle" fill="#111">0.0036</text>
<polyline points="75.40,549.90 75.40,554.60 99.50,554.60 99.50,549.90" fill="none" stroke="#000" stroke-width="0.9"/>
<text x="87.50" y="549.90" font-size="6.7" font-weight="normal" text-anchor="middle" fill="#111">0.0004</text>
<polyline points="104.10,545.80 104.10,549.90 127.20,549.90 127.20,545.80" fill="none" stroke="#000" stroke-width="0.9"/>
<text x="115.50" y="545.80" font-size="6.7" font-weight="normal" text-anchor="middle" fill="#111">0.6035</text>
<line x1="221.30" y1="521.70" x2="221.30" y2="625.40" stroke="#000" stroke-width="1.0"/>
<line x1="220.80" y1="624.90" x2="289.40" y2="624.90" stroke="#000" stroke-width="1.0"/>
<line x1="216.60" y1="624.90" x2="221.30" y2="624.90" stroke="#000" stroke-width="1.0"/>
<text x="215.90" y="627.50" font-size="7.3" font-weight="bold" text-anchor="end" fill="#000">0</text>
<line x1="216.60" y1="604.36" x2="221.30" y2="604.36" stroke="#000" stroke-width="1.0"/>
<text x="215.90" y="606.96" font-size="7.3" font-weight="bold" text-anchor="end" fill="#000">20</text>
<line x1="216.60" y1="583.82" x2="221.30" y2="583.82" stroke="#000" stroke-width="1.0"/>
<text x="215.90" y="586.42" font-size="7.3" font-weight="bold" text-anchor="end" fill="#000">40</text>
<line x1="216.60" y1="563.28" x2="221.30" y2="563.28" stroke="#000" stroke-width="1.0"/>
<text x="215.90" y="565.88" font-size="7.3" font-weight="bold" text-anchor="end" fill="#000">60</text>
<line x1="216.60" y1="542.74" x2="221.30" y2="542.74" stroke="#000" stroke-width="1.0"/>
<text x="215.90" y="545.34" font-size="7.3" font-weight="bold" text-anchor="end" fill="#000">80</text>
<line x1="216.60" y1="522.20" x2="221.30" y2="522.20" stroke="#000" stroke-width="1.0"/>
<text x="215.90" y="524.80" font-size="7.3" font-weight="bold" text-anchor="end" fill="#000">100</text>
<line x1="235.00" y1="624.90" x2="235.00" y2="629.20" stroke="#000" stroke-width="1.0"/>
<line x1="255.40" y1="624.90" x2="255.40" y2="629.20" stroke="#000" stroke-width="1.0"/>
<line x1="276.30" y1="624.90" x2="276.30" y2="629.20" stroke="#000" stroke-width="1.0"/>
<text x="237.40" y="634.90" font-size="7.6" font-weight="bold" text-anchor="end" fill="#000" transform="rotate(-45 237.40 634.90)">CD40L</text>
<text x="257.80" y="634.90" font-size="7.6" font-weight="bold" text-anchor="end" fill="#000" transform="rotate(-45 257.80 634.90)">R848</text>
<text x="278.70" y="634.90" font-size="7.6" font-weight="bold" text-anchor="end" fill="#000" transform="rotate(-45 278.70 634.90)">CpG</text>
<text x="197.30" y="573.55" font-size="8.4" font-weight="bold" text-anchor="middle" fill="#000" transform="rotate(-90 197.30 573.55)">Relative Percentage (%)</text>
<text x="260.20" y="491.20" font-size="8.1" font-weight="bold" text-anchor="middle" fill="#000">Asymmetric Galactosylation</text>
<circle cx="236.00" cy="568.70" r="1.65" fill="#000"/>
<circle cx="233.80" cy="569.80" r="1.65" fill="#000"/>
<circle cx="228.90" cy="572.00" r="1.65" fill="#000"/>
<circle cx="231.10" cy="574.20" r="1.65" fill="#000"/>
<circle cx="228.90" cy="576.40" r="1.65" fill="#000"/>
<circle cx="233.80" cy="574.60" r="1.65" fill="#000"/>
<circle cx="236.00" cy="575.90" r="1.65" fill="#000"/>
<circle cx="238.10" cy="576.40" r="1.65" fill="#000"/>
<circle cx="240.30" cy="576.80" r="1.65" fill="#000"/>
<circle cx="233.30" cy="578.10" r="1.65" fill="#000"/>
<circle cx="235.50" cy="578.10" r="1.65" fill="#000"/>
<circle cx="233.30" cy="580.80" r="1.65" fill="#000"/>
<circle cx="251.30" cy="575.00" r="1.65" fill="#FF0A6A"/>
<circle cx="253.90" cy="575.90" r="1.65" fill="#FF0A6A"/>
<circle cx="257.40" cy="574.60" r="1.65" fill="#FF0A6A"/>
<circle cx="260.00" cy="576.40" r="1.65" fill="#FF0A6A"/>
<circle cx="260.90" cy="576.80" r="1.65" fill="#FF0A6A"/>
<circle cx="249.50" cy="577.30" r="1.65" fill="#FF0A6A"/>
<circle cx="253.00" cy="578.10" r="1.65" fill="#FF0A6A"/>
<circle cx="255.60" cy="579.00" r="1.65" fill="#FF0A6A"/>
<circle cx="258.30" cy="578.10" r="1.65" fill="#FF0A6A"/>
<circle cx="253.00" cy="581.20" r="1.65" fill="#FF0A6A"/>
<circle cx="256.00" cy="577.00" r="1.65" fill="#FF0A6A"/>
<circle cx="277.50" cy="575.30" r="1.65" fill="#007A7A"/>
<circle cx="270.10" cy="578.10" r="1.65" fill="#007A7A"/>
<circle cx="272.30" cy="577.30" r="1.65" fill="#007A7A"/>
<circle cx="274.90" cy="579.00" r="1.65" fill="#007A7A"/>
<circle cx="277.50" cy="578.50" r="1.65" fill="#007A7A"/>
<circle cx="280.20" cy="578.10" r="1.65" fill="#007A7A"/>
<circle cx="281.90" cy="577.70" r="1.65" fill="#007A7A"/>
<circle cx="275.30" cy="584.70" r="1.65" fill="#007A7A"/>
<line x1="228.50" y1="575.50" x2="241.50" y2="575.50" stroke="#000" stroke-width="0.9"/>
<line x1="249.00" y1="577.00" x2="262.00" y2="577.00" stroke="#FF0A6A" stroke-width="0.9"/>
<line x1="269.50" y1="578.00" x2="283.00" y2="578.00" stroke="#007A7A" stroke-width="0.9"/>
<polyline points="234.70,541.00 234.70,513.70 275.70,513.70 275.70,519.60" fill="none" stroke="#000" stroke-width="0.9"/>
<text x="255.10" y="508.80" font-size="8.3" font-weight="normal" text-anchor="middle" fill="#111">0.0053</text>
<polyline points="255.20,541.00 255.20,535.40 275.70,535.40 275.70,569.50" fill="none" stroke="#000" stroke-width="0.9"/>
<text x="265.30" y="530.60" font-size="8.3" font-weight="normal" text-anchor="middle" fill="#111">0.3672</text>
<polyline points="234.70,562.50 234.70,556.90 255.20,556.90 255.20,569.50" fill="none" stroke="#000" stroke-width="0.9"/>
<text x="245.00" y="552.10" font-size="8.3" font-weight="normal" text-anchor="middle" fill="#111">0.0275</text>
<line x1="412.60" y1="522.70" x2="412.60" y2="623.70" stroke="#000" stroke-width="1.0"/>
<line x1="412.10" y1="623.20" x2="479.40" y2="623.20" stroke="#000" stroke-width="1.0"/>
<line x1="407.90" y1="623.20" x2="412.60" y2="623.20" stroke="#000" stroke-width="1.0"/>
<text x="407.20" y="625.80" font-size="7.3" font-weight="bold" text-anchor="end" fill="#000">0</text>
<line x1="407.90" y1="603.20" x2="412.60" y2="603.20" stroke="#000" stroke-width="1.0"/>
<text x="407.20" y="605.80" font-size="7.3" font-weight="bold" text-anchor="end" fill="#000">20</text>
<line x1="407.90" y1="583.20" x2="412.60" y2="583.20" stroke="#000" stroke-width="1.0"/>
<text x="407.20" y="585.80" font-size="7.3" font-weight="bold" text-anchor="end" fill="#000">40</text>
<line x1="407.90" y1="563.20" x2="412.60" y2="563.20" stroke="#000" stroke-width="1.0"/>
<text x="407.20" y="565.80" font-size="7.3" font-weight="bold" text-anchor="end" fill="#000">60</text>
<line x1="407.90" y1="543.20" x2="412.60" y2="543.20" stroke="#000" stroke-width="1.0"/>
<text x="407.20" y="545.80" font-size="7.3" font-weight="bold" text-anchor="end" fill="#000">80</text>
<line x1="407.90" y1="523.20" x2="412.60" y2="523.20" stroke="#000" stroke-width="1.0"/>
<text x="407.20" y="525.80" font-size="7.3" font-weight="bold" text-anchor="end" fill="#000">100</text>
<line x1="425.30" y1="623.20" x2="425.30" y2="627.50" stroke="#000" stroke-width="1.0"/>
<line x1="445.60" y1="623.20" x2="445.60" y2="627.50" stroke="#000" stroke-width="1.0"/>
<line x1="465.60" y1="623.20" x2="465.60" y2="627.50" stroke="#000" stroke-width="1.0"/>
<text x="427.70" y="633.20" font-size="7.6" font-weight="bold" text-anchor="end" fill="#000" transform="rotate(-45 427.70 633.20)">CD40L</text>
<text x="448.00" y="633.20" font-size="7.6" font-weight="bold" text-anchor="end" fill="#000" transform="rotate(-45 448.00 633.20)">R848</text>
<text x="468.00" y="633.20" font-size="7.6" font-weight="bold" text-anchor="end" fill="#000" transform="rotate(-45 468.00 633.20)">CpG</text>
<text x="389.80" y="573.20" font-size="8.4" font-weight="bold" text-anchor="middle" fill="#000" transform="rotate(-90 389.80 573.20)">Relative Percentage (%)</text>
<text x="438.00" y="492.90" font-size="8.1" font-weight="bold" text-anchor="middle" fill="#000">Sialylation</text>
<circle cx="420.70" cy="585.10" r="1.65" fill="#000"/>
<circle cx="424.10" cy="584.60" r="1.65" fill="#000"/>
<circle cx="420.70" cy="587.20" r="1.65" fill="#000"/>
<circle cx="430.90" cy="587.20" r="1.65" fill="#000"/>
<circle cx="420.70" cy="589.20" r="1.65" fill="#000"/>
<circle cx="424.10" cy="589.00" r="1.65" fill="#000"/>
<circle cx="427.30" cy="590.20" r="1.65" fill="#000"/>
<circle cx="430.90" cy="590.00" r="1.65" fill="#000"/>
<circle cx="420.70" cy="592.30" r="1.65" fill="#000"/>
<circle cx="427.30" cy="592.10" r="1.65" fill="#000"/>
<circle cx="420.70" cy="595.80" r="1.65" fill="#000"/>
<circle cx="427.30" cy="595.30" r="1.65" fill="#000"/>
<circle cx="430.90" cy="594.80" r="1.65" fill="#000"/>
<circle cx="447.30" cy="587.70" r="1.65" fill="#FF0A6A"/>
<circle cx="444.50" cy="589.20" r="1.65" fill="#FF0A6A"/>
<circle cx="447.30" cy="593.30" r="1.65" fill="#FF0A6A"/>
<circle cx="444.50" cy="594.30" r="1.65" fill="#FF0A6A"/>
<circle cx="440.10" cy="601.00" r="1.65" fill="#FF0A6A"/>
<circle cx="443.20" cy="600.00" r="1.65" fill="#FF0A6A"/>
<circle cx="445.70" cy="599.50" r="1.65" fill="#FF0A6A"/>
<circle cx="448.30" cy="601.00" r="1.65" fill="#FF0A6A"/>
<circle cx="445.70" cy="602.50" r="1.65" fill="#FF0A6A"/>
<circle cx="448.30" cy="602.00" r="1.65" fill="#FF0A6A"/>
<circle cx="448.30" cy="605.50" r="1.65" fill="#FF0A6A"/>
<circle cx="443.20" cy="607.60" r="1.65" fill="#FF0A6A"/>
<circle cx="467.70" cy="586.30" r="1.65" fill="#007A7A"/>
<circle cx="460.50" cy="588.20" r="1.65" fill="#007A7A"/>
<circle cx="464.10" cy="591.20" r="1.65" fill="#007A7A"/>
<circle cx="467.70" cy="590.20" r="1.65" fill="#007A7A"/>
<circle cx="460.50" cy="599.00" r="1.65" fill="#007A7A"/>
<circle cx="464.10" cy="599.40" r="1.65" fill="#007A7A"/>
<circle cx="467.70" cy="599.20" r="1.65" fill="#007A7A"/>
<circle cx="471.30" cy="599.60" r="1.65" fill="#007A7A"/>
<circle cx="465.60" cy="605.00" r="1.65" fill="#007A7A"/>
<line x1="419.00" y1="590.00" x2="432.00" y2="590.00" stroke="#000" stroke-width="0.9"/>
<line x1="439.60" y1="599.90" x2="452.40" y2="599.90" stroke="#FF0A6A" stroke-width="0.9"/>
<line x1="459.50" y1="599.30" x2="472.50" y2="599.30" stroke="#007A7A" stroke-width="0.9"/>
<polyline points="425.30,557.00 425.30,530.60 465.60,530.60 465.60,535.90" fill="none" stroke="#000" stroke-width="0.9"/>
<text x="445.90" y="526.20" font-size="8.3" font-weight="normal" text-anchor="middle" fill="#111">0.2239</text>
<polyline points="445.60,558.50 445.60,551.80 465.60,551.80 465.60,580.60" fill="none" stroke="#000" stroke-width="0.9"/>
<text x="455.30" y="547.40" font-size="8.3" font-weight="normal" text-anchor="middle" fill="#111">0.1327</text>
<polyline points="425.30,577.60 425.30,572.60 445.60,572.60 445.60,580.60" fill="none" stroke="#000" stroke-width="0.9"/>
<text x="435.30" y="568.00" font-size="8.3" font-weight="normal" text-anchor="middle" fill="#111">0.0053</text>
<line x1="546.80" y1="523.10" x2="546.80" y2="623.00" stroke="#000" stroke-width="1.0"/>
<line x1="546.30" y1="622.50" x2="612.90" y2="622.50" stroke="#000" stroke-width="1.0"/>
<line x1="542.10" y1="622.50" x2="546.80" y2="622.50" stroke="#000" stroke-width="1.0"/>
<text x="541.40" y="625.10" font-size="7.3" font-weight="bold" text-anchor="end" fill="#000">0</text>
<line x1="542.10" y1="602.72" x2="546.80" y2="602.72" stroke="#000" stroke-width="1.0"/>
<text x="541.40" y="605.32" font-size="7.3" font-weight="bold" text-anchor="end" fill="#000">20</text>
<line x1="542.10" y1="582.94" x2="546.80" y2="582.94" stroke="#000" stroke-width="1.0"/>
<text x="541.40" y="585.54" font-size="7.3" font-weight="bold" text-anchor="end" fill="#000">40</text>
<line x1="542.10" y1="563.16" x2="546.80" y2="563.16" stroke="#000" stroke-width="1.0"/>
<text x="541.40" y="565.76" font-size="7.3" font-weight="bold" text-anchor="end" fill="#000">60</text>
<line x1="542.10" y1="543.38" x2="546.80" y2="543.38" stroke="#000" stroke-width="1.0"/>
<text x="541.40" y="545.98" font-size="7.3" font-weight="bold" text-anchor="end" fill="#000">80</text>
<line x1="542.10" y1="523.60" x2="546.80" y2="523.60" stroke="#000" stroke-width="1.0"/>
<text x="541.40" y="526.20" font-size="7.3" font-weight="bold" text-anchor="end" fill="#000">100</text>
<line x1="560.00" y1="622.50" x2="560.00" y2="626.80" stroke="#000" stroke-width="1.0"/>
<line x1="579.70" y1="622.50" x2="579.70" y2="626.80" stroke="#000" stroke-width="1.0"/>
<line x1="599.10" y1="622.50" x2="599.10" y2="626.80" stroke="#000" stroke-width="1.0"/>
<text x="562.40" y="632.50" font-size="7.6" font-weight="bold" text-anchor="end" fill="#000" transform="rotate(-45 562.40 632.50)">CD40L</text>
<text x="582.10" y="632.50" font-size="7.6" font-weight="bold" text-anchor="end" fill="#000" transform="rotate(-45 582.10 632.50)">R848</text>
<text x="601.50" y="632.50" font-size="7.6" font-weight="bold" text-anchor="end" fill="#000" transform="rotate(-45 601.50 632.50)">CpG</text>
<text x="524.60" y="573.05" font-size="8.4" font-weight="bold" text-anchor="middle" fill="#000" transform="rotate(-90 524.60 573.05)">Relative Percentage (%)</text>
<text x="572.80" y="493.20" font-size="8.1" font-weight="bold" text-anchor="middle" fill="#000">Asymmetric sialylation</text>
<circle cx="560.80" cy="590.20" r="1.65" fill="#000"/>
<circle cx="558.20" cy="592.80" r="1.65" fill="#000"/>
<circle cx="562.30" cy="592.30" r="1.65" fill="#000"/>
<circle cx="554.60" cy="595.00" r="1.65" fill="#000"/>
<circle cx="557.60" cy="595.00" r="1.65" fill="#000"/>
<circle cx="560.80" cy="594.80" r="1.65" fill="#000"/>
<circle cx="564.30" cy="594.80" r="1.65" fill="#000"/>
<circle cx="565.90" cy="595.30" r="1.65" fill="#000"/>
<circle cx="556.70" cy="598.90" r="1.65" fill="#000"/>
<circle cx="560.30" cy="598.90" r="1.65" fill="#000"/>
<circle cx="563.30" cy="598.40" r="1.65" fill="#000"/>
<circle cx="574.60" cy="595.80" r="1.65" fill="#FF0A6A"/>
<circle cx="585.30" cy="595.30" r="1.65" fill="#FF0A6A"/>
<circle cx="582.70" cy="596.90" r="1.65" fill="#FF0A6A"/>
<circle cx="579.70" cy="598.40" r="1.65" fill="#FF0A6A"/>
<circle cx="574.60" cy="602.50" r="1.65" fill="#FF0A6A"/>
<circle cx="577.10" cy="603.00" r="1.65" fill="#FF0A6A"/>
<circle cx="579.70" cy="603.50" r="1.65" fill="#FF0A6A"/>
<circle cx="582.70" cy="602.30" r="1.65" fill="#FF0A6A"/>
<circle cx="585.30" cy="603.00" r="1.65" fill="#FF0A6A"/>
<circle cx="578.60" cy="605.00" r="1.65" fill="#FF0A6A"/>
<circle cx="581.70" cy="605.00" r="1.65" fill="#FF0A6A"/>
<circle cx="577.10" cy="607.10" r="1.65" fill="#FF0A6A"/>
<circle cx="594.00" cy="595.80" r="1.65" fill="#007A7A"/>
<circle cx="598.10" cy="595.80" r="1.65" fill="#007A7A"/>
<circle cx="601.10" cy="595.30" r="1.65" fill="#007A7A"/>
<circle cx="604.70" cy="598.20" r="1.65" fill="#007A7A"/>
<circle cx="594.00" cy="601.00" r="1.65" fill="#007A7A"/>
<circle cx="597.10" cy="601.50" r="1.65" fill="#007A7A"/>
<circle cx="600.60" cy="601.50" r="1.65" fill="#007A7A"/>
<circle cx="604.70" cy="601.50" r="1.65" fill="#007A7A"/>
<circle cx="594.50" cy="604.50" r="1.65" fill="#007A7A"/>
<line x1="553.50" y1="595.00" x2="567.00" y2="595.00" stroke="#000" stroke-width="0.9"/>
<line x1="573.00" y1="601.50" x2="586.50" y2="601.50" stroke="#FF0A6A" stroke-width="0.9"/>
<line x1="592.50" y1="600.00" x2="606.00" y2="600.00" stroke="#007A7A" stroke-width="0.9"/>
<polyline points="560.00,563.00 560.00,536.50 599.10,536.50 599.10,542.40" fill="none" stroke="#000" stroke-width="0.9"/>
<text x="579.10" y="532.10" font-size="8.3" font-weight="normal" text-anchor="middle" fill="#111">0.1308</text>
<polyline points="579.70,564.40 579.70,557.00 599.10,557.00 599.10,589.40" fill="none" stroke="#000" stroke-width="0.9"/>
<text x="589.40" y="552.70" font-size="8.3" font-weight="normal" text-anchor="middle" fill="#111">0.2454</text>
<polyline points="560.00,583.50 560.00,578.20 579.70,578.20 579.70,589.40" fill="none" stroke="#000" stroke-width="0.9"/>
<text x="569.40" y="573.30" font-size="8.3" font-weight="normal" text-anchor="middle" fill="#111">0.0053</text>
</svg></body></html>
